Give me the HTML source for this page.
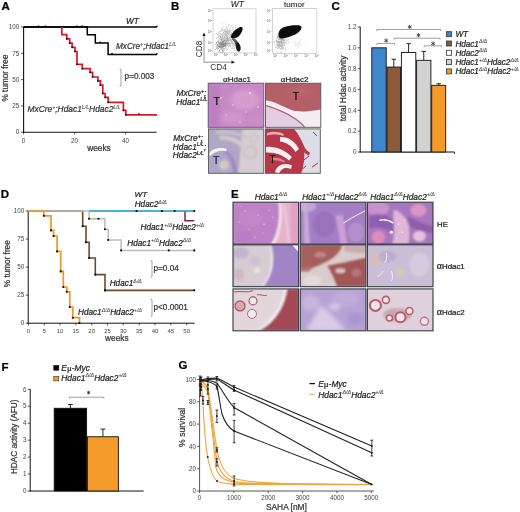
<!DOCTYPE html><html><head><meta charset="utf-8"><style>html,body{margin:0;padding:0;background:#fff;width:520px;height:512px;overflow:hidden}svg{display:block;filter:blur(0.35px)}text{font-family:"Liberation Sans",sans-serif;}</style></head><body>
<svg width="520" height="512" viewBox="0 0 520 512">
<defs>
<filter id="b1" x="-50%" y="-50%" width="200%" height="200%"><feGaussianBlur stdDeviation="1"/></filter>
<filter id="b2" x="-50%" y="-50%" width="200%" height="200%"><feGaussianBlur stdDeviation="2"/></filter>
<filter id="b3" x="-50%" y="-50%" width="200%" height="200%"><feGaussianBlur stdDeviation="3"/></filter>
<filter id="b05" x="-50%" y="-50%" width="200%" height="200%"><feGaussianBlur stdDeviation="0.6"/></filter>
</defs>
<rect width="520" height="512" fill="#fff"/>
<text x="1.5" y="10" font-size="11.5" text-anchor="start" fill="#000" font-weight="bold"  stroke="#000" stroke-width="0.22">A</text>
<line x1="21" y1="132.2" x2="23.6" y2="132.2" stroke="#333" stroke-width="0.8" />
<text x="19.3" y="134.39999999999998" font-size="6.3" text-anchor="end" fill="#444" font-weight="normal" >0</text>
<line x1="21" y1="105.89999999999999" x2="23.6" y2="105.89999999999999" stroke="#333" stroke-width="0.8" />
<text x="19.3" y="108.1" font-size="6.3" text-anchor="end" fill="#444" font-weight="normal" >25</text>
<line x1="21" y1="79.6" x2="23.6" y2="79.6" stroke="#333" stroke-width="0.8" />
<text x="19.3" y="81.8" font-size="6.3" text-anchor="end" fill="#444" font-weight="normal" >50</text>
<line x1="21" y1="53.3" x2="23.6" y2="53.3" stroke="#333" stroke-width="0.8" />
<text x="19.3" y="55.5" font-size="6.3" text-anchor="end" fill="#444" font-weight="normal" >75</text>
<line x1="21" y1="27.0" x2="23.6" y2="27.0" stroke="#333" stroke-width="0.8" />
<text x="19.3" y="29.2" font-size="6.3" text-anchor="end" fill="#444" font-weight="normal" >100</text>
<line x1="23.6" y1="132.2" x2="23.6" y2="134.39999999999998" stroke="#333" stroke-width="0.8" />
<text x="23.6" y="143.2" font-size="6.3" text-anchor="middle" fill="#444" font-weight="normal" >0</text>
<line x1="74.6" y1="132.2" x2="74.6" y2="134.39999999999998" stroke="#333" stroke-width="0.8" />
<text x="74.6" y="143.2" font-size="6.3" text-anchor="middle" fill="#444" font-weight="normal" >20</text>
<line x1="125.6" y1="132.2" x2="125.6" y2="134.39999999999998" stroke="#333" stroke-width="0.8" />
<text x="125.6" y="143.2" font-size="6.3" text-anchor="middle" fill="#444" font-weight="normal" >40</text>
<line x1="23.6" y1="26.7" x2="23.6" y2="132.7" stroke="#111" stroke-width="1.1" />
<line x1="23.1" y1="132.2" x2="156.6" y2="132.2" stroke="#111" stroke-width="1.1" />
<text x="99" y="150.5" font-size="8.3" text-anchor="middle" fill="#333" font-weight="normal"  stroke="#333" stroke-width="0.22">weeks</text>
<text transform="translate(8.3,78) rotate(-90)" font-size="8.2" text-anchor="middle" fill="#333" stroke="#333" stroke-width="0.22">% tumor free</text>
<path d="M23.6,27 H157" stroke="#000" stroke-width="1.6" fill="none" />
<path d="M23.6,27 H87.3 V34.8 H95.3 V43.1 H108.1 V54.4 H157" stroke="#000" stroke-width="1.5" fill="none" />
<path d="M61.9,27 V34.7 H66.8 V38.9 H69.7 V43.1 H72.1 V47.3 H75 V51.5 H77 V64.3 H82.3 V68.7 H90.1 V72.4 H92.6 V77 H97.9 V80.9 H100.4 V85.2 H102.8 V93.5 H105.2 V97.4 H108.2 V102.3 H123.4 V110.3 H125.8 V114.8 H157" stroke="#d8182a" stroke-width="1.7" fill="none" />
<rect x="66.1" y="38.199999999999996" width="1.4" height="1.4" fill="#000" stroke="none" stroke-width="1" />
<rect x="69.0" y="42.4" width="1.4" height="1.4" fill="#000" stroke="none" stroke-width="1" />
<rect x="71.39999999999999" y="46.599999999999994" width="1.4" height="1.4" fill="#000" stroke="none" stroke-width="1" />
<rect x="74.3" y="50.8" width="1.4" height="1.4" fill="#000" stroke="none" stroke-width="1" />
<rect x="76.3" y="63.599999999999994" width="1.4" height="1.4" fill="#000" stroke="none" stroke-width="1" />
<rect x="81.6" y="68.0" width="1.4" height="1.4" fill="#000" stroke="none" stroke-width="1" />
<rect x="89.39999999999999" y="71.7" width="1.4" height="1.4" fill="#000" stroke="none" stroke-width="1" />
<rect x="91.89999999999999" y="76.3" width="1.4" height="1.4" fill="#000" stroke="none" stroke-width="1" />
<rect x="97.2" y="80.2" width="1.4" height="1.4" fill="#000" stroke="none" stroke-width="1" />
<rect x="99.7" y="84.5" width="1.4" height="1.4" fill="#000" stroke="none" stroke-width="1" />
<rect x="102.1" y="92.8" width="1.4" height="1.4" fill="#000" stroke="none" stroke-width="1" />
<rect x="104.5" y="96.7" width="1.4" height="1.4" fill="#000" stroke="none" stroke-width="1" />
<rect x="107.5" y="101.6" width="1.4" height="1.4" fill="#000" stroke="none" stroke-width="1" />
<rect x="122.7" y="109.6" width="1.4" height="1.4" fill="#000" stroke="none" stroke-width="1" />
<rect x="125.1" y="114.1" width="1.4" height="1.4" fill="#000" stroke="none" stroke-width="1" />
<rect x="37.8" y="25.5" width="1.4" height="1.2" fill="#000" stroke="none" stroke-width="1" />
<rect x="44.699999999999996" y="25.5" width="1.4" height="1.2" fill="#000" stroke="none" stroke-width="1" />
<rect x="76.2" y="25.5" width="1.4" height="1.2" fill="#000" stroke="none" stroke-width="1" />
<rect x="81.6" y="25.5" width="1.4" height="1.2" fill="#000" stroke="none" stroke-width="1" />
<rect x="99.6" y="41.599999999999994" width="1.4" height="1.2" fill="#000" stroke="none" stroke-width="1" />
<rect x="111.3" y="52.9" width="1.4" height="1.2" fill="#000" stroke="none" stroke-width="1" />
<rect x="138.3" y="113.2" width="1.4" height="1.2" fill="#000" stroke="none" stroke-width="1" />
<rect x="156.3" y="25.7" width="1.4" height="1.2" fill="#000" stroke="none" stroke-width="1" />
<rect x="156.3" y="53.099999999999994" width="1.4" height="1.2" fill="#000" stroke="none" stroke-width="1" />
<text x="126.0" y="23.6" font-size="8.3" text-anchor="start" fill="#222" font-weight="normal" font-style="italic"  stroke="#222" stroke-width="0.22">WT</text>
<text x="116" y="49.3" font-size="8.2" font-style="italic" fill="#333" stroke="#333" stroke-width="0.22"><tspan>MxCre</tspan><tspan font-size="5.25" dy="-3.44" stroke-width="0.08" fill="#444" stroke="#444">+</tspan><tspan dy="3.44">;Hdac1</tspan><tspan font-size="5.25" dy="-3.44" stroke-width="0.08" fill="#444" stroke="#444">L/L</tspan></text>
<text x="27.5" y="112.3" font-size="8.4" font-style="italic" fill="#333" stroke="#333" stroke-width="0.22"><tspan>MxCre</tspan><tspan font-size="5.25" dy="-3.44" stroke-width="0.08" fill="#444" stroke="#444">+</tspan><tspan dy="3.44">;Hdac1</tspan><tspan font-size="5.25" dy="-3.44" stroke-width="0.08" fill="#444" stroke="#444">L/L</tspan><tspan dy="3.44">Hdac2</tspan><tspan font-size="5.25" dy="-3.44" stroke-width="0.08" fill="#444" stroke="#444">L/L</tspan></text>
<path d="M119.6,69.3 H121 V86.1 H119.6" stroke="#999" stroke-width="0.9" fill="none" />
<text x="124.6" y="79" font-size="8.2" text-anchor="start" fill="#333" font-weight="normal"  stroke="#333" stroke-width="0.22">p=0.003</text>
<text x="171" y="10" font-size="11.5" text-anchor="start" fill="#000" font-weight="bold"  stroke="#000" stroke-width="0.22">B</text>
<rect x="213" y="8.8" width="43" height="44.099999999999994" fill="#fff" stroke="#c8c8c8" stroke-width="0.8" />
<text x="212.0" y="12.2" font-size="2.8" text-anchor="end" fill="#555">10<tspan font-size="2.2" dy="-1">1</tspan></text>
<text x="212.0" y="21.7" font-size="2.8" text-anchor="end" fill="#555">10<tspan font-size="2.2" dy="-1">1</tspan></text>
<text x="212.0" y="32.7" font-size="2.8" text-anchor="end" fill="#555">10<tspan font-size="2.2" dy="-1">1</tspan></text>
<text x="212.0" y="43.7" font-size="2.8" text-anchor="end" fill="#555">10<tspan font-size="2.2" dy="-1">1</tspan></text>
<text x="212.0" y="52.400000000000006" font-size="2.8" text-anchor="end" fill="#555">10<tspan font-size="2.2" dy="-1">1</tspan></text>
<text x="216.0" y="56.3" font-size="2.8" text-anchor="middle" fill="#555">10<tspan font-size="2.2" dy="-1">1</tspan></text>
<text x="226.0" y="56.3" font-size="2.8" text-anchor="middle" fill="#555">10<tspan font-size="2.2" dy="-1">1</tspan></text>
<text x="236.0" y="56.3" font-size="2.8" text-anchor="middle" fill="#555">10<tspan font-size="2.2" dy="-1">1</tspan></text>
<text x="246.0" y="56.3" font-size="2.8" text-anchor="middle" fill="#555">10<tspan font-size="2.2" dy="-1">1</tspan></text>
<text x="256.0" y="56.3" font-size="2.8" text-anchor="middle" fill="#555">10<tspan font-size="2.2" dy="-1">1</tspan></text>
<rect x="272.4" y="8.6" width="44.400000000000034" height="44.8" fill="#fff" stroke="#c8c8c8" stroke-width="0.8" />
<text x="271.4" y="12.2" font-size="2.8" text-anchor="end" fill="#555">10<tspan font-size="2.2" dy="-1">1</tspan></text>
<text x="271.4" y="21.7" font-size="2.8" text-anchor="end" fill="#555">10<tspan font-size="2.2" dy="-1">1</tspan></text>
<text x="271.4" y="32.7" font-size="2.8" text-anchor="end" fill="#555">10<tspan font-size="2.2" dy="-1">1</tspan></text>
<text x="271.4" y="43.7" font-size="2.8" text-anchor="end" fill="#555">10<tspan font-size="2.2" dy="-1">1</tspan></text>
<text x="271.4" y="52.400000000000006" font-size="2.8" text-anchor="end" fill="#555">10<tspan font-size="2.2" dy="-1">1</tspan></text>
<text x="275.4" y="56.8" font-size="2.8" text-anchor="middle" fill="#555">10<tspan font-size="2.2" dy="-1">1</tspan></text>
<text x="285.75" y="56.8" font-size="2.8" text-anchor="middle" fill="#555">10<tspan font-size="2.2" dy="-1">1</tspan></text>
<text x="296.1" y="56.8" font-size="2.8" text-anchor="middle" fill="#555">10<tspan font-size="2.2" dy="-1">1</tspan></text>
<text x="306.45" y="56.8" font-size="2.8" text-anchor="middle" fill="#555">10<tspan font-size="2.2" dy="-1">1</tspan></text>
<text x="316.8" y="56.8" font-size="2.8" text-anchor="middle" fill="#555">10<tspan font-size="2.2" dy="-1">1</tspan></text>
<text x="237.3" y="7.0" font-size="8.5" text-anchor="middle" fill="#222" font-style="italic" stroke="#222" stroke-width="0.1">WT</text>
<text x="294.3" y="7.1" font-size="8.1" text-anchor="middle" fill="#222" stroke="#222" stroke-width="0.1">tumor</text>
<g filter="url(#b05)">
<g fill="#666" opacity="0.4"><circle cx="223.29" cy="41.42" r="0.6"/><circle cx="224.73" cy="37.10" r="0.6"/><circle cx="222.15" cy="36.89" r="0.6"/><circle cx="228.13" cy="42.41" r="0.6"/><circle cx="228.16" cy="41.41" r="0.6"/><circle cx="226.06" cy="40.39" r="0.6"/><circle cx="217.88" cy="41.72" r="0.6"/><circle cx="225.93" cy="42.16" r="0.6"/><circle cx="222.02" cy="28.04" r="0.6"/><circle cx="222.70" cy="35.59" r="0.6"/><circle cx="226.13" cy="39.08" r="0.6"/><circle cx="227.84" cy="36.18" r="0.6"/><circle cx="225.42" cy="41.40" r="0.6"/><circle cx="219.93" cy="47.32" r="0.6"/><circle cx="224.97" cy="45.88" r="0.6"/><circle cx="224.07" cy="34.45" r="0.6"/><circle cx="223.99" cy="38.07" r="0.6"/><circle cx="226.77" cy="40.98" r="0.6"/><circle cx="225.02" cy="33.50" r="0.6"/><circle cx="221.23" cy="44.86" r="0.6"/><circle cx="221.82" cy="39.43" r="0.6"/><circle cx="228.89" cy="31.63" r="0.6"/><circle cx="223.04" cy="45.92" r="0.6"/><circle cx="218.59" cy="35.17" r="0.6"/><circle cx="225.96" cy="34.59" r="0.6"/><circle cx="226.81" cy="39.20" r="0.6"/><circle cx="218.62" cy="41.79" r="0.6"/><circle cx="225.76" cy="44.68" r="0.6"/><circle cx="229.37" cy="42.44" r="0.6"/><circle cx="227.52" cy="32.30" r="0.6"/><circle cx="228.11" cy="36.44" r="0.6"/><circle cx="225.50" cy="31.87" r="0.6"/><circle cx="222.54" cy="35.18" r="0.6"/><circle cx="232.73" cy="29.70" r="0.6"/><circle cx="219.60" cy="38.71" r="0.6"/><circle cx="229.02" cy="43.58" r="0.6"/><circle cx="222.56" cy="23.75" r="0.6"/><circle cx="227.43" cy="35.51" r="0.6"/><circle cx="219.56" cy="42.94" r="0.6"/><circle cx="228.53" cy="41.00" r="0.6"/><circle cx="225.14" cy="41.54" r="0.6"/><circle cx="229.48" cy="43.95" r="0.6"/><circle cx="225.89" cy="42.43" r="0.6"/><circle cx="217.52" cy="44.07" r="0.6"/><circle cx="227.42" cy="42.80" r="0.6"/><circle cx="219.24" cy="33.57" r="0.6"/><circle cx="230.84" cy="30.38" r="0.6"/><circle cx="222.71" cy="44.16" r="0.6"/><circle cx="217.87" cy="46.07" r="0.6"/><circle cx="227.14" cy="38.80" r="0.6"/><circle cx="225.06" cy="42.76" r="0.6"/><circle cx="223.55" cy="45.15" r="0.6"/><circle cx="223.40" cy="36.12" r="0.6"/><circle cx="228.54" cy="40.25" r="0.6"/><circle cx="220.43" cy="43.04" r="0.6"/><circle cx="230.76" cy="38.22" r="0.6"/><circle cx="220.47" cy="36.82" r="0.6"/><circle cx="224.97" cy="37.28" r="0.6"/><circle cx="231.50" cy="35.10" r="0.6"/><circle cx="231.40" cy="33.68" r="0.6"/><circle cx="221.27" cy="41.48" r="0.6"/><circle cx="227.49" cy="44.71" r="0.6"/><circle cx="225.96" cy="40.12" r="0.6"/><circle cx="224.59" cy="42.18" r="0.6"/><circle cx="223.94" cy="40.27" r="0.6"/><circle cx="226.97" cy="39.61" r="0.6"/><circle cx="226.71" cy="42.79" r="0.6"/><circle cx="231.39" cy="42.85" r="0.6"/><circle cx="224.13" cy="36.59" r="0.6"/><circle cx="223.45" cy="43.84" r="0.6"/><circle cx="223.22" cy="40.67" r="0.6"/><circle cx="235.49" cy="27.48" r="0.6"/><circle cx="220.74" cy="39.09" r="0.6"/><circle cx="225.98" cy="40.68" r="0.6"/><circle cx="222.45" cy="41.98" r="0.6"/><circle cx="226.82" cy="36.56" r="0.6"/><circle cx="232.78" cy="43.45" r="0.6"/><circle cx="223.26" cy="37.89" r="0.6"/><circle cx="224.33" cy="38.43" r="0.6"/><circle cx="216.41" cy="33.54" r="0.6"/><circle cx="230.37" cy="33.93" r="0.6"/><circle cx="223.22" cy="43.94" r="0.6"/><circle cx="225.52" cy="47.75" r="0.6"/><circle cx="219.72" cy="35.33" r="0.6"/><circle cx="222.81" cy="41.91" r="0.6"/><circle cx="233.12" cy="26.06" r="0.6"/><circle cx="231.10" cy="32.55" r="0.6"/><circle cx="229.77" cy="31.89" r="0.6"/><circle cx="223.66" cy="45.46" r="0.6"/><circle cx="224.18" cy="39.85" r="0.6"/><circle cx="227.51" cy="40.59" r="0.6"/><circle cx="222.20" cy="46.96" r="0.6"/><circle cx="229.08" cy="38.57" r="0.6"/><circle cx="236.31" cy="35.89" r="0.6"/><circle cx="228.58" cy="38.58" r="0.6"/><circle cx="224.31" cy="42.85" r="0.6"/><circle cx="224.73" cy="42.59" r="0.6"/><circle cx="222.20" cy="29.44" r="0.6"/><circle cx="228.68" cy="34.59" r="0.6"/><circle cx="223.86" cy="30.18" r="0.6"/><circle cx="228.14" cy="44.27" r="0.6"/><circle cx="231.59" cy="35.64" r="0.6"/><circle cx="226.86" cy="33.01" r="0.6"/><circle cx="225.05" cy="48.17" r="0.6"/><circle cx="219.40" cy="46.25" r="0.6"/><circle cx="228.69" cy="39.12" r="0.6"/><circle cx="215.93" cy="44.29" r="0.6"/><circle cx="225.65" cy="35.73" r="0.6"/><circle cx="225.71" cy="41.58" r="0.6"/><circle cx="231.81" cy="35.23" r="0.6"/><circle cx="226.49" cy="48.02" r="0.6"/><circle cx="230.29" cy="39.60" r="0.6"/><circle cx="220.79" cy="43.56" r="0.6"/><circle cx="225.19" cy="39.78" r="0.6"/><circle cx="230.33" cy="39.13" r="0.6"/><circle cx="217.73" cy="34.52" r="0.6"/><circle cx="217.29" cy="41.33" r="0.6"/><circle cx="227.08" cy="36.13" r="0.6"/><circle cx="223.61" cy="43.36" r="0.6"/><circle cx="223.12" cy="46.05" r="0.6"/><circle cx="223.10" cy="44.40" r="0.6"/><circle cx="227.51" cy="49.05" r="0.6"/><circle cx="221.26" cy="42.91" r="0.6"/><circle cx="220.31" cy="31.31" r="0.6"/><circle cx="216.51" cy="42.53" r="0.6"/><circle cx="220.78" cy="37.62" r="0.6"/><circle cx="224.39" cy="38.65" r="0.6"/><circle cx="222.59" cy="39.60" r="0.6"/><circle cx="231.09" cy="41.14" r="0.6"/><circle cx="225.20" cy="44.82" r="0.6"/><circle cx="226.37" cy="32.17" r="0.6"/><circle cx="221.34" cy="44.05" r="0.6"/><circle cx="220.31" cy="34.11" r="0.6"/><circle cx="227.18" cy="44.24" r="0.6"/><circle cx="223.72" cy="43.24" r="0.6"/><circle cx="227.49" cy="32.98" r="0.6"/><circle cx="220.66" cy="33.98" r="0.6"/><circle cx="229.09" cy="37.01" r="0.6"/><circle cx="223.15" cy="33.99" r="0.6"/><circle cx="219.92" cy="36.75" r="0.6"/><circle cx="220.35" cy="39.66" r="0.6"/><circle cx="216.35" cy="38.21" r="0.6"/><circle cx="225.95" cy="28.11" r="0.6"/><circle cx="227.94" cy="38.32" r="0.6"/><circle cx="218.75" cy="32.03" r="0.6"/><circle cx="226.75" cy="36.90" r="0.6"/><circle cx="226.47" cy="43.76" r="0.6"/><circle cx="226.76" cy="41.42" r="0.6"/><circle cx="228.51" cy="43.89" r="0.6"/><circle cx="229.94" cy="28.53" r="0.6"/><circle cx="225.96" cy="46.83" r="0.6"/><circle cx="224.74" cy="36.22" r="0.6"/><circle cx="234.53" cy="31.83" r="0.6"/><circle cx="222.67" cy="52.23" r="0.6"/><circle cx="220.69" cy="41.64" r="0.6"/><circle cx="231.68" cy="40.38" r="0.6"/><circle cx="225.46" cy="44.34" r="0.6"/><circle cx="222.03" cy="37.57" r="0.6"/><circle cx="224.67" cy="43.65" r="0.6"/><circle cx="225.20" cy="37.94" r="0.6"/><circle cx="222.09" cy="36.03" r="0.6"/><circle cx="227.90" cy="40.48" r="0.6"/><circle cx="223.43" cy="33.67" r="0.6"/><circle cx="232.32" cy="47.83" r="0.6"/><circle cx="231.41" cy="26.05" r="0.6"/><circle cx="226.36" cy="42.19" r="0.6"/><circle cx="230.10" cy="43.04" r="0.6"/><circle cx="223.92" cy="41.67" r="0.6"/><circle cx="216.63" cy="42.36" r="0.6"/><circle cx="227.26" cy="35.66" r="0.6"/><circle cx="226.62" cy="49.92" r="0.6"/><circle cx="221.26" cy="34.01" r="0.6"/><circle cx="225.70" cy="40.27" r="0.6"/><circle cx="225.21" cy="33.46" r="0.6"/><circle cx="230.61" cy="46.71" r="0.6"/><circle cx="223.08" cy="30.66" r="0.6"/><circle cx="229.25" cy="46.01" r="0.6"/><circle cx="229.95" cy="45.19" r="0.6"/><circle cx="221.58" cy="39.44" r="0.6"/><circle cx="218.79" cy="32.77" r="0.6"/><circle cx="223.95" cy="41.68" r="0.6"/><circle cx="222.70" cy="37.57" r="0.6"/><circle cx="225.96" cy="41.47" r="0.6"/><circle cx="226.85" cy="40.78" r="0.6"/><circle cx="222.60" cy="42.80" r="0.6"/><circle cx="226.51" cy="34.71" r="0.6"/><circle cx="222.85" cy="38.33" r="0.6"/><circle cx="224.37" cy="39.71" r="0.6"/><circle cx="224.71" cy="39.92" r="0.6"/><circle cx="226.58" cy="32.24" r="0.6"/><circle cx="224.74" cy="44.98" r="0.6"/><circle cx="226.80" cy="38.47" r="0.6"/><circle cx="228.11" cy="34.40" r="0.6"/><circle cx="218.38" cy="37.30" r="0.6"/><circle cx="220.60" cy="41.90" r="0.6"/><circle cx="225.54" cy="24.04" r="0.6"/><circle cx="218.86" cy="46.19" r="0.6"/><circle cx="225.91" cy="31.40" r="0.6"/><circle cx="221.53" cy="40.92" r="0.6"/><circle cx="226.42" cy="40.46" r="0.6"/><circle cx="228.96" cy="44.29" r="0.6"/><circle cx="223.96" cy="42.11" r="0.6"/><circle cx="229.11" cy="45.86" r="0.6"/><circle cx="230.28" cy="34.40" r="0.6"/><circle cx="223.30" cy="42.68" r="0.6"/><circle cx="222.24" cy="44.30" r="0.6"/><circle cx="225.57" cy="44.41" r="0.6"/><circle cx="220.13" cy="52.15" r="0.6"/><circle cx="229.61" cy="39.19" r="0.6"/><circle cx="221.09" cy="52.73" r="0.6"/><circle cx="222.40" cy="43.23" r="0.6"/><circle cx="228.36" cy="40.08" r="0.6"/><circle cx="220.68" cy="38.74" r="0.6"/><circle cx="224.40" cy="45.32" r="0.6"/><circle cx="227.65" cy="39.96" r="0.6"/><circle cx="227.06" cy="42.74" r="0.6"/><circle cx="225.62" cy="39.51" r="0.6"/><circle cx="223.05" cy="42.35" r="0.6"/><circle cx="222.40" cy="34.58" r="0.6"/><circle cx="227.40" cy="31.31" r="0.6"/><circle cx="226.77" cy="27.98" r="0.6"/><circle cx="221.73" cy="41.26" r="0.6"/><circle cx="227.04" cy="39.32" r="0.6"/><circle cx="226.50" cy="31.31" r="0.6"/><circle cx="230.45" cy="43.66" r="0.6"/><circle cx="230.19" cy="35.53" r="0.6"/><circle cx="227.32" cy="29.24" r="0.6"/><circle cx="226.16" cy="44.74" r="0.6"/><circle cx="218.56" cy="36.71" r="0.6"/><circle cx="230.03" cy="30.41" r="0.6"/><circle cx="220.45" cy="31.46" r="0.6"/><circle cx="225.12" cy="30.96" r="0.6"/><circle cx="224.70" cy="40.35" r="0.6"/><circle cx="226.04" cy="43.36" r="0.6"/><circle cx="228.28" cy="46.72" r="0.6"/><circle cx="221.31" cy="34.95" r="0.6"/><circle cx="223.10" cy="32.22" r="0.6"/><circle cx="224.71" cy="38.94" r="0.6"/><circle cx="229.27" cy="31.18" r="0.6"/><circle cx="220.78" cy="37.56" r="0.6"/><circle cx="224.82" cy="37.15" r="0.6"/><circle cx="226.02" cy="34.94" r="0.6"/><circle cx="226.84" cy="41.61" r="0.6"/><circle cx="225.79" cy="35.38" r="0.6"/><circle cx="228.82" cy="24.51" r="0.6"/><circle cx="221.56" cy="38.15" r="0.6"/><circle cx="219.50" cy="38.45" r="0.6"/><circle cx="227.75" cy="31.92" r="0.6"/><circle cx="224.65" cy="37.08" r="0.6"/><circle cx="225.59" cy="42.70" r="0.6"/><circle cx="226.26" cy="34.49" r="0.6"/><circle cx="224.61" cy="38.50" r="0.6"/><circle cx="227.05" cy="41.33" r="0.6"/><circle cx="224.72" cy="31.11" r="0.6"/><circle cx="224.92" cy="34.71" r="0.6"/><circle cx="221.36" cy="37.21" r="0.6"/><circle cx="223.14" cy="39.03" r="0.6"/><circle cx="227.47" cy="37.39" r="0.6"/><circle cx="233.52" cy="39.78" r="0.6"/><circle cx="228.59" cy="40.81" r="0.6"/><circle cx="232.70" cy="27.70" r="0.6"/><circle cx="222.01" cy="39.50" r="0.6"/><circle cx="223.27" cy="51.92" r="0.6"/><circle cx="224.03" cy="46.07" r="0.6"/><circle cx="226.10" cy="44.79" r="0.6"/><circle cx="227.01" cy="38.72" r="0.6"/><circle cx="228.50" cy="33.88" r="0.6"/><circle cx="230.72" cy="34.91" r="0.6"/><circle cx="222.41" cy="50.41" r="0.6"/><circle cx="224.20" cy="38.86" r="0.6"/><circle cx="228.96" cy="40.38" r="0.6"/><circle cx="221.80" cy="39.50" r="0.6"/><circle cx="225.85" cy="43.35" r="0.6"/><circle cx="219.49" cy="47.39" r="0.6"/><circle cx="230.70" cy="40.87" r="0.6"/><circle cx="226.62" cy="37.03" r="0.6"/><circle cx="231.01" cy="36.80" r="0.6"/><circle cx="228.10" cy="37.20" r="0.6"/><circle cx="221.45" cy="42.04" r="0.6"/><circle cx="229.60" cy="40.37" r="0.6"/><circle cx="221.35" cy="42.54" r="0.6"/><circle cx="224.32" cy="40.58" r="0.6"/><circle cx="228.40" cy="46.57" r="0.6"/><circle cx="219.50" cy="50.45" r="0.6"/><circle cx="223.73" cy="43.13" r="0.6"/><circle cx="222.85" cy="38.08" r="0.6"/><circle cx="216.08" cy="46.53" r="0.6"/><circle cx="231.67" cy="34.07" r="0.6"/><circle cx="222.46" cy="28.88" r="0.6"/><circle cx="229.79" cy="37.84" r="0.6"/><circle cx="225.30" cy="37.29" r="0.6"/><circle cx="226.35" cy="33.15" r="0.6"/><circle cx="227.42" cy="31.47" r="0.6"/><circle cx="224.25" cy="40.55" r="0.6"/><circle cx="226.98" cy="38.28" r="0.6"/><circle cx="221.63" cy="38.88" r="0.6"/><circle cx="220.79" cy="46.71" r="0.6"/><circle cx="227.83" cy="39.21" r="0.6"/><circle cx="224.52" cy="34.81" r="0.6"/><circle cx="222.35" cy="36.15" r="0.6"/></g>
<g fill="#444" opacity="0.45"><circle cx="222.27" cy="46.24" r="0.55"/><circle cx="222.98" cy="50.04" r="0.55"/><circle cx="219.67" cy="45.03" r="0.55"/><circle cx="228.77" cy="40.52" r="0.55"/><circle cx="220.14" cy="45.41" r="0.55"/><circle cx="221.90" cy="45.98" r="0.55"/><circle cx="220.88" cy="45.88" r="0.55"/><circle cx="221.64" cy="46.85" r="0.55"/><circle cx="216.58" cy="42.88" r="0.55"/><circle cx="221.49" cy="42.52" r="0.55"/><circle cx="218.78" cy="46.51" r="0.55"/><circle cx="219.81" cy="46.52" r="0.55"/><circle cx="223.44" cy="45.74" r="0.55"/><circle cx="222.82" cy="44.75" r="0.55"/><circle cx="217.84" cy="44.93" r="0.55"/><circle cx="222.68" cy="43.73" r="0.55"/><circle cx="221.24" cy="46.80" r="0.55"/><circle cx="219.22" cy="46.54" r="0.55"/><circle cx="226.34" cy="43.67" r="0.55"/><circle cx="221.88" cy="44.64" r="0.55"/><circle cx="225.50" cy="45.76" r="0.55"/><circle cx="223.83" cy="43.34" r="0.55"/><circle cx="221.46" cy="44.98" r="0.55"/><circle cx="216.88" cy="48.46" r="0.55"/><circle cx="223.84" cy="40.80" r="0.55"/><circle cx="223.44" cy="44.69" r="0.55"/><circle cx="222.67" cy="45.88" r="0.55"/><circle cx="217.60" cy="44.49" r="0.55"/><circle cx="225.38" cy="43.62" r="0.55"/><circle cx="218.84" cy="41.74" r="0.55"/><circle cx="218.33" cy="45.81" r="0.55"/><circle cx="225.90" cy="46.03" r="0.55"/><circle cx="222.14" cy="50.36" r="0.55"/><circle cx="220.15" cy="43.38" r="0.55"/><circle cx="222.87" cy="46.32" r="0.55"/><circle cx="218.86" cy="42.19" r="0.55"/><circle cx="222.26" cy="45.59" r="0.55"/><circle cx="218.10" cy="44.51" r="0.55"/><circle cx="220.09" cy="46.10" r="0.55"/><circle cx="221.20" cy="44.79" r="0.55"/><circle cx="220.58" cy="47.53" r="0.55"/><circle cx="225.12" cy="44.12" r="0.55"/><circle cx="223.70" cy="43.18" r="0.55"/><circle cx="221.69" cy="46.80" r="0.55"/><circle cx="225.44" cy="44.08" r="0.55"/><circle cx="221.31" cy="45.47" r="0.55"/><circle cx="217.60" cy="45.04" r="0.55"/><circle cx="219.74" cy="45.89" r="0.55"/><circle cx="218.56" cy="40.26" r="0.55"/><circle cx="221.60" cy="45.63" r="0.55"/><circle cx="220.07" cy="47.13" r="0.55"/><circle cx="220.79" cy="43.55" r="0.55"/><circle cx="222.74" cy="41.24" r="0.55"/><circle cx="219.74" cy="44.95" r="0.55"/><circle cx="223.71" cy="44.61" r="0.55"/><circle cx="222.30" cy="43.43" r="0.55"/><circle cx="222.28" cy="48.99" r="0.55"/><circle cx="219.72" cy="50.68" r="0.55"/><circle cx="219.83" cy="45.04" r="0.55"/><circle cx="221.95" cy="47.46" r="0.55"/><circle cx="218.28" cy="39.96" r="0.55"/><circle cx="223.08" cy="46.91" r="0.55"/><circle cx="223.12" cy="51.31" r="0.55"/><circle cx="222.03" cy="45.61" r="0.55"/><circle cx="223.92" cy="45.89" r="0.55"/><circle cx="225.83" cy="42.03" r="0.55"/><circle cx="220.52" cy="36.73" r="0.55"/><circle cx="223.61" cy="44.11" r="0.55"/><circle cx="223.90" cy="50.17" r="0.55"/><circle cx="221.48" cy="44.39" r="0.55"/><circle cx="220.20" cy="42.99" r="0.55"/><circle cx="219.86" cy="46.53" r="0.55"/><circle cx="221.60" cy="45.16" r="0.55"/><circle cx="221.05" cy="47.19" r="0.55"/><circle cx="222.78" cy="44.66" r="0.55"/><circle cx="223.23" cy="44.64" r="0.55"/><circle cx="218.50" cy="48.49" r="0.55"/><circle cx="222.71" cy="42.70" r="0.55"/><circle cx="224.30" cy="45.83" r="0.55"/><circle cx="217.43" cy="48.86" r="0.55"/><circle cx="222.37" cy="47.14" r="0.55"/><circle cx="222.01" cy="44.64" r="0.55"/><circle cx="217.47" cy="47.33" r="0.55"/><circle cx="221.58" cy="44.31" r="0.55"/><circle cx="222.41" cy="45.19" r="0.55"/><circle cx="223.26" cy="44.11" r="0.55"/><circle cx="221.41" cy="39.87" r="0.55"/><circle cx="220.40" cy="46.62" r="0.55"/><circle cx="224.98" cy="44.13" r="0.55"/><circle cx="221.18" cy="48.80" r="0.55"/><circle cx="220.65" cy="46.76" r="0.55"/><circle cx="225.86" cy="45.10" r="0.55"/><circle cx="224.69" cy="43.29" r="0.55"/><circle cx="222.04" cy="44.81" r="0.55"/><circle cx="221.80" cy="47.71" r="0.55"/><circle cx="227.71" cy="43.40" r="0.55"/><circle cx="220.00" cy="46.19" r="0.55"/><circle cx="218.76" cy="46.19" r="0.55"/><circle cx="222.99" cy="44.33" r="0.55"/><circle cx="222.88" cy="41.28" r="0.55"/><circle cx="223.48" cy="41.29" r="0.55"/><circle cx="219.69" cy="43.67" r="0.55"/><circle cx="220.46" cy="47.06" r="0.55"/><circle cx="221.71" cy="44.05" r="0.55"/><circle cx="222.91" cy="48.80" r="0.55"/><circle cx="221.52" cy="45.88" r="0.55"/><circle cx="224.72" cy="45.64" r="0.55"/><circle cx="218.16" cy="50.98" r="0.55"/><circle cx="227.24" cy="40.24" r="0.55"/><circle cx="221.40" cy="46.00" r="0.55"/><circle cx="224.01" cy="46.61" r="0.55"/><circle cx="220.79" cy="42.47" r="0.55"/><circle cx="221.77" cy="47.48" r="0.55"/><circle cx="218.67" cy="42.53" r="0.55"/><circle cx="221.44" cy="40.35" r="0.55"/><circle cx="220.82" cy="43.95" r="0.55"/><circle cx="222.67" cy="43.32" r="0.55"/><circle cx="219.21" cy="44.05" r="0.55"/><circle cx="221.37" cy="43.40" r="0.55"/><circle cx="221.53" cy="46.80" r="0.55"/><circle cx="224.58" cy="49.09" r="0.55"/><circle cx="219.46" cy="43.99" r="0.55"/><circle cx="215.04" cy="49.56" r="0.55"/><circle cx="219.62" cy="44.92" r="0.55"/><circle cx="222.86" cy="41.74" r="0.55"/><circle cx="222.71" cy="44.94" r="0.55"/><circle cx="216.75" cy="45.70" r="0.55"/><circle cx="224.61" cy="40.52" r="0.55"/><circle cx="223.60" cy="45.50" r="0.55"/><circle cx="222.73" cy="46.06" r="0.55"/><circle cx="224.89" cy="44.46" r="0.55"/><circle cx="223.77" cy="44.02" r="0.55"/><circle cx="223.39" cy="43.05" r="0.55"/><circle cx="221.22" cy="49.15" r="0.55"/><circle cx="222.66" cy="44.62" r="0.55"/><circle cx="218.52" cy="43.10" r="0.55"/><circle cx="222.00" cy="47.25" r="0.55"/><circle cx="222.61" cy="46.26" r="0.55"/><circle cx="221.39" cy="48.24" r="0.55"/><circle cx="220.48" cy="43.68" r="0.55"/><circle cx="223.81" cy="45.15" r="0.55"/><circle cx="220.78" cy="43.62" r="0.55"/><circle cx="220.83" cy="46.50" r="0.55"/><circle cx="222.42" cy="42.10" r="0.55"/><circle cx="222.61" cy="45.43" r="0.55"/><circle cx="218.90" cy="46.85" r="0.55"/><circle cx="220.77" cy="44.19" r="0.55"/><circle cx="223.57" cy="48.17" r="0.55"/><circle cx="219.71" cy="46.05" r="0.55"/><circle cx="219.22" cy="50.55" r="0.55"/><circle cx="220.22" cy="47.87" r="0.55"/><circle cx="219.82" cy="46.95" r="0.55"/><circle cx="227.27" cy="38.90" r="0.55"/><circle cx="220.37" cy="46.20" r="0.55"/><circle cx="221.26" cy="43.40" r="0.55"/><circle cx="227.10" cy="45.19" r="0.55"/><circle cx="217.22" cy="47.05" r="0.55"/><circle cx="217.02" cy="47.76" r="0.55"/><circle cx="220.00" cy="45.35" r="0.55"/><circle cx="224.78" cy="45.28" r="0.55"/></g>
<g fill="#999" opacity="0.35"><circle cx="223.52" cy="26.76" r="0.5"/><circle cx="229.96" cy="32.85" r="0.5"/><circle cx="224.96" cy="33.15" r="0.5"/><circle cx="228.24" cy="32.62" r="0.5"/><circle cx="221.35" cy="30.24" r="0.5"/><circle cx="229.25" cy="32.83" r="0.5"/><circle cx="229.20" cy="24.86" r="0.5"/><circle cx="227.42" cy="32.23" r="0.5"/><circle cx="233.38" cy="28.62" r="0.5"/><circle cx="226.18" cy="31.09" r="0.5"/><circle cx="229.22" cy="29.89" r="0.5"/><circle cx="229.87" cy="29.03" r="0.5"/><circle cx="227.67" cy="29.68" r="0.5"/><circle cx="227.40" cy="29.27" r="0.5"/><circle cx="223.01" cy="33.73" r="0.5"/><circle cx="227.76" cy="29.60" r="0.5"/><circle cx="227.50" cy="33.48" r="0.5"/><circle cx="224.56" cy="30.72" r="0.5"/><circle cx="228.35" cy="32.32" r="0.5"/><circle cx="226.16" cy="25.73" r="0.5"/><circle cx="230.11" cy="31.82" r="0.5"/><circle cx="227.03" cy="30.30" r="0.5"/><circle cx="227.66" cy="29.94" r="0.5"/><circle cx="224.44" cy="29.15" r="0.5"/><circle cx="225.51" cy="29.47" r="0.5"/><circle cx="224.10" cy="32.59" r="0.5"/><circle cx="223.73" cy="32.65" r="0.5"/><circle cx="224.46" cy="31.88" r="0.5"/><circle cx="230.44" cy="31.51" r="0.5"/><circle cx="225.17" cy="31.12" r="0.5"/><circle cx="227.37" cy="26.67" r="0.5"/><circle cx="225.48" cy="31.41" r="0.5"/><circle cx="225.83" cy="31.20" r="0.5"/><circle cx="228.83" cy="32.92" r="0.5"/><circle cx="229.26" cy="32.47" r="0.5"/><circle cx="226.28" cy="30.95" r="0.5"/><circle cx="226.32" cy="30.22" r="0.5"/><circle cx="226.55" cy="26.69" r="0.5"/><circle cx="226.17" cy="30.94" r="0.5"/><circle cx="224.57" cy="30.94" r="0.5"/><circle cx="228.29" cy="30.59" r="0.5"/><circle cx="232.19" cy="24.48" r="0.5"/><circle cx="226.48" cy="26.44" r="0.5"/><circle cx="229.45" cy="37.64" r="0.5"/><circle cx="220.74" cy="31.32" r="0.5"/><circle cx="228.30" cy="30.24" r="0.5"/><circle cx="228.38" cy="25.39" r="0.5"/><circle cx="229.13" cy="31.93" r="0.5"/><circle cx="227.06" cy="29.53" r="0.5"/><circle cx="228.60" cy="29.79" r="0.5"/><circle cx="227.56" cy="29.72" r="0.5"/><circle cx="221.38" cy="30.92" r="0.5"/><circle cx="227.51" cy="32.89" r="0.5"/><circle cx="224.81" cy="30.92" r="0.5"/><circle cx="228.54" cy="31.36" r="0.5"/><circle cx="230.11" cy="35.98" r="0.5"/><circle cx="224.73" cy="26.20" r="0.5"/><circle cx="229.14" cy="34.82" r="0.5"/><circle cx="229.31" cy="33.03" r="0.5"/><circle cx="225.45" cy="29.22" r="0.5"/></g>
<g fill="#666" opacity="0.35"><circle cx="235.78" cy="41.27" r="0.5"/><circle cx="230.37" cy="41.01" r="0.5"/><circle cx="238.98" cy="49.77" r="0.5"/><circle cx="232.63" cy="41.81" r="0.5"/><circle cx="234.46" cy="41.75" r="0.5"/><circle cx="236.62" cy="43.77" r="0.5"/><circle cx="231.83" cy="47.93" r="0.5"/><circle cx="232.83" cy="44.66" r="0.5"/><circle cx="233.97" cy="43.06" r="0.5"/><circle cx="234.65" cy="41.92" r="0.5"/><circle cx="230.31" cy="37.38" r="0.5"/><circle cx="231.47" cy="41.72" r="0.5"/><circle cx="233.95" cy="44.17" r="0.5"/><circle cx="235.11" cy="44.36" r="0.5"/><circle cx="232.41" cy="41.87" r="0.5"/><circle cx="229.76" cy="43.49" r="0.5"/><circle cx="234.97" cy="45.59" r="0.5"/><circle cx="233.76" cy="43.48" r="0.5"/><circle cx="235.87" cy="44.05" r="0.5"/><circle cx="235.48" cy="45.75" r="0.5"/><circle cx="234.43" cy="47.92" r="0.5"/><circle cx="232.85" cy="42.92" r="0.5"/><circle cx="232.38" cy="41.61" r="0.5"/><circle cx="237.11" cy="49.28" r="0.5"/><circle cx="234.05" cy="45.70" r="0.5"/><circle cx="236.35" cy="46.42" r="0.5"/><circle cx="236.41" cy="40.21" r="0.5"/><circle cx="232.72" cy="45.36" r="0.5"/><circle cx="236.87" cy="44.31" r="0.5"/><circle cx="232.28" cy="42.94" r="0.5"/><circle cx="232.68" cy="41.43" r="0.5"/><circle cx="237.00" cy="42.12" r="0.5"/><circle cx="234.04" cy="50.49" r="0.5"/><circle cx="236.37" cy="45.01" r="0.5"/><circle cx="232.78" cy="45.23" r="0.5"/><circle cx="237.24" cy="45.87" r="0.5"/><circle cx="236.52" cy="44.29" r="0.5"/><circle cx="235.03" cy="43.40" r="0.5"/><circle cx="234.85" cy="47.90" r="0.5"/><circle cx="231.14" cy="43.81" r="0.5"/><circle cx="234.48" cy="42.29" r="0.5"/><circle cx="233.38" cy="46.36" r="0.5"/><circle cx="238.00" cy="45.89" r="0.5"/><circle cx="234.65" cy="39.35" r="0.5"/><circle cx="237.86" cy="44.23" r="0.5"/><circle cx="233.93" cy="40.64" r="0.5"/><circle cx="233.89" cy="40.71" r="0.5"/><circle cx="234.14" cy="45.40" r="0.5"/><circle cx="234.06" cy="44.84" r="0.5"/><circle cx="232.30" cy="48.29" r="0.5"/><circle cx="232.69" cy="38.55" r="0.5"/><circle cx="233.62" cy="41.71" r="0.5"/><circle cx="231.98" cy="42.94" r="0.5"/><circle cx="234.58" cy="40.45" r="0.5"/><circle cx="233.72" cy="48.28" r="0.5"/><circle cx="235.37" cy="43.54" r="0.5"/><circle cx="234.26" cy="43.64" r="0.5"/><circle cx="233.90" cy="46.20" r="0.5"/><circle cx="233.81" cy="36.79" r="0.5"/><circle cx="233.96" cy="41.33" r="0.5"/><circle cx="235.30" cy="42.17" r="0.5"/><circle cx="234.30" cy="50.53" r="0.5"/><circle cx="231.91" cy="40.63" r="0.5"/><circle cx="231.18" cy="36.82" r="0.5"/><circle cx="230.24" cy="45.09" r="0.5"/><circle cx="232.72" cy="38.40" r="0.5"/><circle cx="231.03" cy="45.85" r="0.5"/><circle cx="232.45" cy="42.90" r="0.5"/><circle cx="234.66" cy="48.07" r="0.5"/><circle cx="237.88" cy="47.10" r="0.5"/><circle cx="234.29" cy="44.55" r="0.5"/><circle cx="237.60" cy="48.29" r="0.5"/><circle cx="233.38" cy="45.37" r="0.5"/><circle cx="234.57" cy="44.16" r="0.5"/><circle cx="233.00" cy="40.02" r="0.5"/><circle cx="232.93" cy="39.37" r="0.5"/><circle cx="236.45" cy="45.61" r="0.5"/><circle cx="231.59" cy="48.19" r="0.5"/><circle cx="235.78" cy="38.27" r="0.5"/><circle cx="237.68" cy="46.43" r="0.5"/></g>
</g>
<g filter="url(#b05)">
<path d="M230.8,36.5 C232,33 235,29.5 239,27.6 C241.2,26.7 243,27 242.6,29 C242,32 240.5,34.5 238.5,36.5 C236.5,38.2 233,38.8 231.2,37.8 Z" fill="#0a0a0a"/>
<path d="M235.5,40.5 C238.5,42 241,45 240.6,49 C240.2,52.3 237.2,52.5 236.5,49.5 C235.8,46.5 235,43 235.5,40.5 Z" fill="#151515"/>
<path d="M232,38 C235,38.5 237.5,40 238,43 L235.5,44 C234.5,41.5 233.5,40.5 231.5,39.5 Z" fill="#444" opacity="0.8"/>
</g>
<g filter="url(#b05)">
<g fill="#555" opacity="0.4"><circle cx="285.45" cy="37.08" r="0.55"/><circle cx="281.77" cy="43.69" r="0.55"/><circle cx="280.98" cy="42.68" r="0.55"/><circle cx="283.03" cy="36.02" r="0.55"/><circle cx="277.52" cy="36.42" r="0.55"/><circle cx="279.16" cy="39.58" r="0.55"/><circle cx="281.38" cy="43.07" r="0.55"/><circle cx="280.58" cy="39.29" r="0.55"/><circle cx="279.44" cy="45.81" r="0.55"/><circle cx="282.33" cy="42.40" r="0.55"/><circle cx="279.73" cy="48.21" r="0.55"/><circle cx="279.07" cy="44.59" r="0.55"/><circle cx="283.27" cy="40.94" r="0.55"/><circle cx="282.48" cy="37.54" r="0.55"/><circle cx="282.93" cy="42.80" r="0.55"/><circle cx="276.69" cy="44.68" r="0.55"/><circle cx="278.36" cy="47.13" r="0.55"/><circle cx="278.87" cy="41.34" r="0.55"/><circle cx="281.18" cy="40.67" r="0.55"/><circle cx="281.12" cy="39.79" r="0.55"/><circle cx="282.11" cy="42.02" r="0.55"/><circle cx="281.01" cy="30.99" r="0.55"/><circle cx="283.29" cy="42.13" r="0.55"/><circle cx="276.22" cy="42.38" r="0.55"/><circle cx="281.62" cy="46.28" r="0.55"/><circle cx="277.90" cy="48.19" r="0.55"/><circle cx="280.12" cy="51.58" r="0.55"/><circle cx="280.15" cy="44.72" r="0.55"/><circle cx="279.62" cy="37.54" r="0.55"/><circle cx="283.13" cy="45.63" r="0.55"/><circle cx="284.19" cy="45.43" r="0.55"/><circle cx="279.12" cy="35.35" r="0.55"/><circle cx="278.94" cy="39.30" r="0.55"/><circle cx="278.54" cy="44.33" r="0.55"/><circle cx="281.29" cy="40.92" r="0.55"/><circle cx="280.91" cy="41.42" r="0.55"/><circle cx="281.01" cy="45.01" r="0.55"/><circle cx="282.80" cy="39.26" r="0.55"/><circle cx="276.88" cy="47.71" r="0.55"/><circle cx="280.77" cy="46.42" r="0.55"/><circle cx="276.56" cy="40.68" r="0.55"/><circle cx="280.56" cy="36.23" r="0.55"/><circle cx="279.26" cy="44.90" r="0.55"/><circle cx="283.09" cy="48.38" r="0.55"/><circle cx="278.43" cy="36.39" r="0.55"/><circle cx="281.75" cy="45.76" r="0.55"/><circle cx="280.96" cy="36.79" r="0.55"/><circle cx="282.38" cy="45.17" r="0.55"/><circle cx="281.83" cy="40.05" r="0.55"/><circle cx="281.23" cy="45.16" r="0.55"/><circle cx="279.16" cy="34.63" r="0.55"/><circle cx="281.29" cy="43.92" r="0.55"/><circle cx="280.53" cy="45.56" r="0.55"/><circle cx="279.09" cy="41.67" r="0.55"/><circle cx="279.77" cy="44.29" r="0.55"/><circle cx="284.33" cy="41.00" r="0.55"/><circle cx="285.43" cy="48.12" r="0.55"/><circle cx="282.40" cy="44.35" r="0.55"/><circle cx="284.75" cy="41.28" r="0.55"/><circle cx="280.23" cy="37.75" r="0.55"/><circle cx="281.63" cy="47.38" r="0.55"/><circle cx="281.78" cy="43.69" r="0.55"/><circle cx="280.02" cy="42.68" r="0.55"/><circle cx="277.08" cy="46.20" r="0.55"/><circle cx="279.52" cy="37.58" r="0.55"/><circle cx="278.70" cy="38.70" r="0.55"/><circle cx="282.55" cy="46.23" r="0.55"/><circle cx="277.24" cy="45.71" r="0.55"/><circle cx="282.63" cy="39.68" r="0.55"/><circle cx="276.93" cy="39.02" r="0.55"/><circle cx="278.98" cy="43.37" r="0.55"/><circle cx="279.64" cy="33.89" r="0.55"/><circle cx="281.06" cy="35.86" r="0.55"/><circle cx="282.67" cy="37.17" r="0.55"/><circle cx="278.84" cy="38.58" r="0.55"/><circle cx="279.20" cy="47.19" r="0.55"/><circle cx="282.54" cy="44.41" r="0.55"/><circle cx="281.27" cy="35.81" r="0.55"/><circle cx="279.25" cy="39.79" r="0.55"/><circle cx="278.15" cy="44.04" r="0.55"/><circle cx="278.72" cy="39.16" r="0.55"/><circle cx="277.99" cy="33.77" r="0.55"/><circle cx="281.93" cy="47.32" r="0.55"/><circle cx="280.92" cy="38.09" r="0.55"/><circle cx="274.01" cy="42.69" r="0.55"/><circle cx="283.42" cy="43.19" r="0.55"/><circle cx="282.73" cy="47.91" r="0.55"/><circle cx="283.20" cy="40.23" r="0.55"/><circle cx="283.03" cy="45.10" r="0.55"/><circle cx="276.81" cy="40.38" r="0.55"/><circle cx="277.08" cy="41.56" r="0.55"/><circle cx="281.89" cy="37.73" r="0.55"/><circle cx="275.57" cy="47.19" r="0.55"/><circle cx="281.40" cy="47.88" r="0.55"/><circle cx="277.32" cy="46.24" r="0.55"/><circle cx="285.48" cy="50.03" r="0.55"/><circle cx="280.00" cy="43.08" r="0.55"/><circle cx="280.13" cy="45.99" r="0.55"/><circle cx="282.99" cy="42.35" r="0.55"/><circle cx="277.24" cy="44.96" r="0.55"/><circle cx="279.37" cy="44.52" r="0.55"/><circle cx="281.13" cy="48.49" r="0.55"/><circle cx="283.23" cy="40.20" r="0.55"/><circle cx="281.34" cy="49.06" r="0.55"/><circle cx="279.21" cy="43.73" r="0.55"/><circle cx="283.36" cy="47.03" r="0.55"/><circle cx="281.74" cy="36.72" r="0.55"/><circle cx="277.47" cy="42.99" r="0.55"/><circle cx="281.43" cy="52.19" r="0.55"/><circle cx="278.43" cy="46.55" r="0.55"/><circle cx="282.35" cy="35.31" r="0.55"/><circle cx="278.54" cy="42.66" r="0.55"/><circle cx="279.32" cy="41.38" r="0.55"/><circle cx="281.63" cy="38.76" r="0.55"/><circle cx="281.62" cy="39.45" r="0.55"/><circle cx="279.19" cy="44.15" r="0.55"/><circle cx="279.12" cy="43.15" r="0.55"/><circle cx="284.34" cy="42.11" r="0.55"/><circle cx="280.15" cy="44.94" r="0.55"/><circle cx="279.62" cy="46.33" r="0.55"/><circle cx="277.42" cy="44.47" r="0.55"/><circle cx="279.27" cy="38.81" r="0.55"/><circle cx="284.75" cy="38.60" r="0.55"/><circle cx="284.72" cy="44.63" r="0.55"/><circle cx="283.99" cy="38.09" r="0.55"/><circle cx="283.38" cy="47.83" r="0.55"/><circle cx="280.22" cy="41.48" r="0.55"/><circle cx="286.39" cy="42.71" r="0.55"/><circle cx="279.49" cy="39.48" r="0.55"/><circle cx="281.57" cy="43.32" r="0.55"/><circle cx="280.93" cy="48.89" r="0.55"/><circle cx="279.71" cy="43.89" r="0.55"/><circle cx="284.00" cy="37.98" r="0.55"/><circle cx="282.99" cy="49.33" r="0.55"/><circle cx="277.25" cy="37.61" r="0.55"/><circle cx="278.01" cy="34.61" r="0.55"/><circle cx="281.59" cy="34.58" r="0.55"/><circle cx="281.70" cy="47.81" r="0.55"/><circle cx="276.62" cy="40.73" r="0.55"/><circle cx="275.90" cy="45.12" r="0.55"/><circle cx="278.73" cy="40.94" r="0.55"/><circle cx="280.63" cy="44.18" r="0.55"/><circle cx="279.67" cy="42.06" r="0.55"/><circle cx="279.19" cy="42.46" r="0.55"/><circle cx="277.69" cy="42.25" r="0.55"/><circle cx="275.86" cy="40.04" r="0.55"/><circle cx="285.10" cy="42.32" r="0.55"/><circle cx="277.48" cy="43.03" r="0.55"/><circle cx="278.17" cy="35.39" r="0.55"/><circle cx="278.73" cy="44.95" r="0.55"/><circle cx="281.42" cy="41.61" r="0.55"/><circle cx="278.28" cy="37.69" r="0.55"/><circle cx="283.74" cy="42.98" r="0.55"/><circle cx="278.22" cy="33.56" r="0.55"/><circle cx="277.21" cy="51.90" r="0.55"/><circle cx="277.74" cy="41.69" r="0.55"/><circle cx="281.00" cy="41.37" r="0.55"/><circle cx="279.83" cy="36.51" r="0.55"/><circle cx="277.98" cy="48.75" r="0.55"/><circle cx="278.68" cy="45.38" r="0.55"/><circle cx="276.43" cy="40.90" r="0.55"/><circle cx="281.13" cy="46.15" r="0.55"/><circle cx="277.81" cy="44.38" r="0.55"/><circle cx="281.43" cy="39.05" r="0.55"/><circle cx="281.65" cy="38.41" r="0.55"/><circle cx="278.59" cy="41.92" r="0.55"/><circle cx="273.99" cy="41.56" r="0.55"/><circle cx="278.10" cy="36.15" r="0.55"/><circle cx="279.48" cy="45.05" r="0.55"/><circle cx="279.53" cy="47.06" r="0.55"/><circle cx="277.72" cy="36.75" r="0.55"/><circle cx="284.22" cy="43.60" r="0.55"/><circle cx="282.77" cy="38.69" r="0.55"/><circle cx="282.43" cy="43.04" r="0.55"/><circle cx="282.06" cy="42.10" r="0.55"/><circle cx="283.40" cy="39.40" r="0.55"/><circle cx="278.19" cy="36.09" r="0.55"/><circle cx="283.29" cy="39.05" r="0.55"/><circle cx="278.00" cy="38.24" r="0.55"/><circle cx="279.43" cy="36.91" r="0.55"/></g>
<g fill="#888" opacity="0.35"><circle cx="282.13" cy="38.75" r="0.5"/><circle cx="281.35" cy="38.08" r="0.5"/><circle cx="283.11" cy="39.08" r="0.5"/><circle cx="283.34" cy="40.50" r="0.5"/><circle cx="284.02" cy="35.62" r="0.5"/><circle cx="281.39" cy="38.41" r="0.5"/><circle cx="285.32" cy="36.84" r="0.5"/><circle cx="280.86" cy="39.41" r="0.5"/><circle cx="281.99" cy="41.98" r="0.5"/><circle cx="281.67" cy="41.93" r="0.5"/><circle cx="278.60" cy="36.38" r="0.5"/><circle cx="286.66" cy="40.87" r="0.5"/><circle cx="284.46" cy="40.25" r="0.5"/><circle cx="284.45" cy="37.57" r="0.5"/><circle cx="285.85" cy="38.94" r="0.5"/><circle cx="285.96" cy="40.18" r="0.5"/><circle cx="277.08" cy="37.43" r="0.5"/><circle cx="286.38" cy="39.73" r="0.5"/><circle cx="281.81" cy="40.49" r="0.5"/><circle cx="281.72" cy="38.91" r="0.5"/><circle cx="283.31" cy="40.29" r="0.5"/><circle cx="287.55" cy="40.09" r="0.5"/><circle cx="288.64" cy="43.61" r="0.5"/><circle cx="288.15" cy="42.12" r="0.5"/><circle cx="283.39" cy="40.27" r="0.5"/><circle cx="282.57" cy="38.54" r="0.5"/><circle cx="282.80" cy="38.72" r="0.5"/><circle cx="287.92" cy="41.07" r="0.5"/><circle cx="281.66" cy="36.17" r="0.5"/><circle cx="282.84" cy="39.17" r="0.5"/><circle cx="279.74" cy="37.73" r="0.5"/><circle cx="276.25" cy="41.14" r="0.5"/><circle cx="282.80" cy="45.16" r="0.5"/><circle cx="282.91" cy="39.70" r="0.5"/><circle cx="287.33" cy="40.27" r="0.5"/><circle cx="283.50" cy="39.26" r="0.5"/><circle cx="281.18" cy="43.00" r="0.5"/><circle cx="286.00" cy="43.43" r="0.5"/><circle cx="281.95" cy="40.06" r="0.5"/><circle cx="280.36" cy="41.93" r="0.5"/><circle cx="278.82" cy="41.13" r="0.5"/><circle cx="286.29" cy="42.82" r="0.5"/><circle cx="280.18" cy="42.18" r="0.5"/><circle cx="280.86" cy="38.49" r="0.5"/><circle cx="279.03" cy="42.31" r="0.5"/><circle cx="287.95" cy="38.81" r="0.5"/><circle cx="280.72" cy="39.32" r="0.5"/><circle cx="290.52" cy="42.01" r="0.5"/><circle cx="281.37" cy="36.41" r="0.5"/><circle cx="280.98" cy="42.37" r="0.5"/><circle cx="288.60" cy="39.47" r="0.5"/><circle cx="280.93" cy="38.98" r="0.5"/><circle cx="277.34" cy="41.82" r="0.5"/><circle cx="279.74" cy="42.13" r="0.5"/><circle cx="277.88" cy="37.46" r="0.5"/><circle cx="283.87" cy="38.47" r="0.5"/><circle cx="285.34" cy="40.02" r="0.5"/><circle cx="279.48" cy="41.24" r="0.5"/><circle cx="285.53" cy="36.17" r="0.5"/><circle cx="288.48" cy="40.99" r="0.5"/></g>
<g fill="#bbb" opacity="0.4"><circle cx="299.40" cy="40.28" r="0.5"/><circle cx="295.70" cy="43.30" r="0.5"/><circle cx="300.19" cy="41.08" r="0.5"/><circle cx="295.29" cy="39.94" r="0.5"/><circle cx="296.90" cy="44.69" r="0.5"/><circle cx="293.28" cy="42.82" r="0.5"/><circle cx="298.78" cy="47.17" r="0.5"/><circle cx="299.16" cy="43.39" r="0.5"/><circle cx="294.56" cy="42.13" r="0.5"/><circle cx="295.84" cy="44.29" r="0.5"/><circle cx="297.38" cy="47.33" r="0.5"/><circle cx="298.22" cy="41.86" r="0.5"/><circle cx="301.36" cy="45.90" r="0.5"/><circle cx="297.75" cy="42.56" r="0.5"/><circle cx="292.82" cy="41.96" r="0.5"/><circle cx="299.78" cy="42.39" r="0.5"/><circle cx="294.20" cy="44.39" r="0.5"/><circle cx="298.11" cy="45.21" r="0.5"/><circle cx="299.14" cy="46.82" r="0.5"/><circle cx="295.40" cy="45.96" r="0.5"/><circle cx="295.03" cy="45.39" r="0.5"/><circle cx="297.95" cy="44.49" r="0.5"/><circle cx="299.92" cy="43.97" r="0.5"/><circle cx="300.28" cy="45.75" r="0.5"/><circle cx="297.84" cy="42.87" r="0.5"/><circle cx="295.62" cy="42.94" r="0.5"/><circle cx="296.99" cy="43.95" r="0.5"/><circle cx="304.95" cy="45.28" r="0.5"/><circle cx="299.42" cy="42.28" r="0.5"/><circle cx="295.72" cy="43.36" r="0.5"/><circle cx="297.98" cy="41.93" r="0.5"/><circle cx="301.53" cy="42.87" r="0.5"/><circle cx="300.20" cy="39.33" r="0.5"/><circle cx="297.48" cy="44.56" r="0.5"/><circle cx="297.98" cy="45.20" r="0.5"/><circle cx="298.20" cy="44.32" r="0.5"/><circle cx="292.77" cy="42.57" r="0.5"/><circle cx="291.64" cy="45.26" r="0.5"/><circle cx="298.27" cy="43.61" r="0.5"/><circle cx="295.45" cy="42.84" r="0.5"/></g>
<path d="M278.6,34.5 C278.8,30.5 280.5,28.5 284.5,27 C289,25.6 294,25 298.5,25.3 C301.3,25.6 302.2,27 301.2,29 C299.8,31.5 297.5,33.4 294.5,34.8 C290.5,36.6 285.5,38.2 281.5,38.6 C279.5,38.8 278.6,37 278.6,34.5 Z" fill="#080808"/>
</g>
<line x1="204" y1="62.2" x2="204" y2="35" stroke="#888" stroke-width="0.9" />
<line x1="204" y1="62.2" x2="232.5" y2="62.2" stroke="#888" stroke-width="0.9" />
<path d="M204,32.5 L202.4,36 L205.6,36 Z" stroke="none" stroke-width="1" fill="#111" />
<path d="M235,62.2 L231.5,60.6 L231.5,63.8 Z" stroke="none" stroke-width="1" fill="#111" />
<text transform="translate(202.2,49) rotate(-90)" font-size="8.3" text-anchor="middle" fill="#333" stroke="none">CD8</text>
<text x="218.5" y="70.1" font-size="8.3" text-anchor="middle" fill="#333" stroke="none">CD4</text>
<text x="237" y="82.2" font-size="8" text-anchor="middle" fill="#222" stroke="#222" stroke-width="0.22"><tspan font-family="Liberation Serif" font-size="9">&#945;</tspan>Hdac1</text>
<text x="294.6" y="82.2" font-size="8" text-anchor="middle" fill="#222" stroke="#222" stroke-width="0.22"><tspan font-family="Liberation Serif" font-size="9">&#945;</tspan>Hdac2</text>
<text x="176.5" y="95.8" font-size="8.3" font-style="italic" fill="#222" stroke="#222" stroke-width="0.22">MxCre<tspan font-size="5.2" dy="-3.3">+</tspan><tspan dy="3.3">;</tspan></text>
<text x="176.3" y="104.6" font-size="8.3" font-style="italic" fill="#222" stroke="#222" stroke-width="0.22">Hdac1<tspan font-size="5.2" dy="-3.3">L/L</tspan></text>
<text x="173.2" y="140.8" font-size="8.3" font-style="italic" fill="#222" stroke="#222" stroke-width="0.22">MxCre<tspan font-size="5.2" dy="-3.3">+</tspan><tspan dy="3.3">;</tspan></text>
<text x="172.8" y="149.6" font-size="8.3" font-style="italic" fill="#222" stroke="#222" stroke-width="0.22">Hdac1<tspan font-size="5.2" dy="-3.3">L/L</tspan><tspan dy="3.3">;</tspan></text>
<text x="172.8" y="158.4" font-size="8.3" font-style="italic" fill="#222" stroke="#222" stroke-width="0.22">Hdac2<tspan font-size="5.2" dy="-3.3">L/L</tspan></text>
<clipPath id="cb1"><rect x="208.2" y="83.2" width="55.6" height="44.1"/></clipPath>
<g clip-path="url(#cb1)">
<rect x="208.2" y="83.2" width="55.6" height="44.1" fill="#c88ac6" stroke="none" stroke-width="1" />
<g filter="url(#b2)">
<rect x="208.2" y="83.2" width="12" height="44.1" fill="#b87cc0" opacity="0.8"/>
<ellipse cx="245" cy="100" rx="14" ry="10" fill="#d8a2d2" opacity="0.8"/>
<ellipse cx="232" cy="118" rx="12" ry="6" fill="#d49ccd" opacity="0.7"/>
<ellipse cx="255" cy="122" rx="9" ry="5" fill="#cc8cc8" opacity="0.7"/>
</g>
<circle cx="250" cy="93" r="1.2" fill="#eccbe8"/>
<circle cx="221" cy="98" r="1" fill="#eccbe8"/>
<circle cx="233" cy="105" r="0.8" fill="#eccbe8"/>
<circle cx="258" cy="107" r="0.9" fill="#eccbe8"/>
<circle cx="240" cy="122" r="0.8" fill="#eccbe8"/>
<circle cx="226" cy="115" r="0.7" fill="#eccbe8"/>
<circle cx="246" cy="112" r="0.7" fill="#eccbe8"/>
</g>
<rect x="208.2" y="83.2" width="55.6" height="44.1" fill="none" stroke="#5a4a6a" stroke-width="0.9" />
<text x="216.8" y="105.4" font-size="10.4" text-anchor="middle" fill="#111" font-weight="normal"  stroke="#111" stroke-width="0.22">T</text>
<clipPath id="cb2"><rect x="265.5" y="83.2" width="55.3" height="44.1"/></clipPath>
<g clip-path="url(#cb2)">
<rect x="265.5" y="83.2" width="55.3" height="44.1" fill="#f4ecf0" stroke="none" stroke-width="1" />
<g filter="url(#b05)">
<path d="M265,83 H321 V109.4 C316,110 312,111 306,111.4 C300,111.6 296,111.5 293,110.6 C287,108 281,105.5 276,103 C271,101 268,100.5 265,100.2 Z" fill="#b45e68"/>
<path d="M265,105.4 C270,106.5 275,108.5 280,110.6 C286,113 292,116.5 296,119.2 C300,122 303,124.5 305,128 H265 Z" fill="#e3cde3"/>
<path d="M265,105.4 C270,106.5 275,108.5 280,110.6 C286,113 292,116.5 296,119.2 C300,122 303,124.5 305,128" stroke="#9a4a5a" stroke-width="1.2" fill="none" opacity="0.8"/>
</g>
<g filter="url(#b2)"><ellipse cx="300" cy="92" rx="12" ry="5" fill="#c06870" opacity="0.6"/></g>
</g>
<rect x="265.5" y="83.2" width="55.3" height="44.1" fill="none" stroke="#555" stroke-width="0.9" />
<text x="296" y="99.6" font-size="10.4" text-anchor="middle" fill="#111" font-weight="normal"  stroke="#111" stroke-width="0.22">T</text>
<clipPath id="cb3"><rect x="208.5" y="128.9" width="55.3" height="44.4"/></clipPath>
<g clip-path="url(#cb3)">
<rect x="208.5" y="128.9" width="55.3" height="44.4" fill="#b2a6c8" stroke="none" stroke-width="1" />
<g filter="url(#b1)">
<path d="M242,128.9 H265 V174 H238 C240,160 241,145 242,128.9 Z" fill="#d6ced2"/>
<path d="M219,136 C226,134 236,137 243,143 L241,147 C235,142 227,139 220,140 Z" fill="#d2cac4"/>
<path d="M215,131 C224,129 236,131 246,136 L245,138 C236,134 226,133 216,134 Z" fill="#c8c0d0"/>
<path d="M226,150 C232,153 236,160 238,174 L233,174 C232,162 229,156 224,153 Z" fill="#9a8ebe"/>
<circle cx="224" cy="165" r="5" fill="#cfc8c6"/>
<circle cx="250" cy="152" r="6" fill="none" stroke="#c8bcc8" stroke-width="1.5"/>
<circle cx="254" cy="138" r="4" fill="none" stroke="#ccc0c8" stroke-width="1.2"/>
</g>
<g filter="url(#b05)"><path d="M209,153.5 C212,149 217,147.5 223,148 C225,148.2 226.5,148.8 227,149.6 L226,151.3 C221,150.2 216,150.8 210,156 Z" fill="#f2f2f0"/></g>
</g>
<rect x="208.5" y="128.9" width="55.3" height="44.4" fill="none" stroke="#555" stroke-width="0.9" />
<text x="216.2" y="163.5" font-size="10.4" text-anchor="middle" fill="#1a1a4a" font-weight="normal"  stroke="#1a1a4a" stroke-width="0.22">T</text>
<clipPath id="cb4"><rect x="265.5" y="128.9" width="54.8" height="44.4"/></clipPath>
<g clip-path="url(#cb4)">
<rect x="265.5" y="128.9" width="54.8" height="44.4" fill="#dddde8" stroke="none" stroke-width="1" />
<g filter="url(#b05)">
<path d="M265,128 H293 C298,133 302,141 304,149 C305,157 304,165 301,174 H265 Z" fill="#b8384a"/>
<path d="M292,128 C297,132 301,139 304,146 C306,150 308,152 310,152.5 L309,155.5 C306,154.5 304,152.5 302,150 Z" fill="#b8384a"/>
<path d="M280,137 C288,136.5 295,141 299,149 L295.5,152 C292,146 287,142.5 280,141.5 Z" fill="#f2f0f4"/>
<path d="M266,147 C275,146 285,150 292,157 L289,160.5 C283,155 275,152 266,152.5 Z" fill="#f2f0f4"/>
<path d="M275,172 C277,165 284,162 292,165.5 L291,169 C286,167 281,168 279,174 Z" fill="#f2f0f4"/>
<path d="M267,133 C273,131 279,131.5 284,134 L283,136 C278,134 272,134 267,135.5 Z" fill="#e4a8b0"/>
<path d="M271,158 C276,157 281,158 285,161 L284,162.5 C280,160.5 276,160 271,160.5 Z" fill="#d88890"/>
</g>
<path d="M300,171 L306,166 M312,167 L318,163 M304,160 L309,156 M313,132 L317,136" stroke="#a83040" stroke-width="1"/>
</g>
<rect x="265.5" y="128.9" width="54.8" height="44.4" fill="none" stroke="#555" stroke-width="0.9" />
<text x="272.5" y="163.2" font-size="10.4" text-anchor="middle" fill="#111" font-weight="normal"  stroke="#111" stroke-width="0.22">T</text>
<text x="331.5" y="10" font-size="11.5" text-anchor="start" fill="#000" font-weight="bold"  stroke="#000" stroke-width="0.22">C</text>
<line x1="357.7" y1="152.0" x2="360.2" y2="152.0" stroke="#333" stroke-width="0.8" />
<text x="356.59999999999997" y="154.2" font-size="6.3" text-anchor="end" fill="#444" font-weight="normal" >0</text>
<line x1="357.7" y1="131.16" x2="360.2" y2="131.16" stroke="#333" stroke-width="0.8" />
<text x="356.59999999999997" y="133.35999999999999" font-size="6.3" text-anchor="end" fill="#444" font-weight="normal" >0.2</text>
<line x1="357.7" y1="110.32" x2="360.2" y2="110.32" stroke="#333" stroke-width="0.8" />
<text x="356.59999999999997" y="112.52" font-size="6.3" text-anchor="end" fill="#444" font-weight="normal" >0.4</text>
<line x1="357.7" y1="89.48" x2="360.2" y2="89.48" stroke="#333" stroke-width="0.8" />
<text x="356.59999999999997" y="91.68" font-size="6.3" text-anchor="end" fill="#444" font-weight="normal" >0.6</text>
<line x1="357.7" y1="68.63999999999999" x2="360.2" y2="68.63999999999999" stroke="#333" stroke-width="0.8" />
<text x="356.59999999999997" y="70.83999999999999" font-size="6.3" text-anchor="end" fill="#444" font-weight="normal" >0.8</text>
<line x1="357.7" y1="47.8" x2="360.2" y2="47.8" stroke="#333" stroke-width="0.8" />
<text x="356.59999999999997" y="50.0" font-size="6.3" text-anchor="end" fill="#444" font-weight="normal" >1.0</text>
<line x1="357.7" y1="26.960000000000008" x2="360.2" y2="26.960000000000008" stroke="#333" stroke-width="0.8" />
<text x="356.59999999999997" y="29.160000000000007" font-size="6.3" text-anchor="end" fill="#444" font-weight="normal" >1.2</text>
<line x1="360.2" y1="26.660000000000007" x2="360.2" y2="152.5" stroke="#111" stroke-width="1.0" />
<line x1="359.7" y1="152" x2="454.5" y2="152" stroke="#111" stroke-width="1.0" />
<line x1="454.5" y1="152" x2="454.5" y2="154" stroke="#111" stroke-width="0.8" />
<text transform="translate(345.9,88.5) rotate(-90)" font-size="8.4" text-anchor="middle" fill="#333" stroke="#333" stroke-width="0.22">total Hdac activity</text>
<rect x="371.79999999999995" y="47.8" width="14.400000000000045" height="104.2" fill="#3f86cc" stroke="#111" stroke-width="0.9" />
<line x1="393.8" y1="67.077" x2="393.8" y2="59.262" stroke="#111" stroke-width="0.9" />
<line x1="391.6" y1="59.262" x2="396.0" y2="59.262" stroke="#111" stroke-width="0.9" />
<rect x="387.0" y="67.077" width="13.599999999999977" height="84.923" fill="#8c5c3a" stroke="#111" stroke-width="0.9" />
<line x1="408.6" y1="52.489000000000004" x2="408.6" y2="43.63199999999999" stroke="#111" stroke-width="0.9" />
<line x1="406.40000000000003" y1="43.63199999999999" x2="410.8" y2="43.63199999999999" stroke="#111" stroke-width="0.9" />
<rect x="401.4" y="52.489000000000004" width="14.399999999999988" height="99.511" fill="#ffffff" stroke="#111" stroke-width="0.9" />
<line x1="423.75" y1="60.304" x2="423.75" y2="51.447" stroke="#111" stroke-width="0.9" />
<line x1="421.55" y1="51.447" x2="425.95" y2="51.447" stroke="#111" stroke-width="0.9" />
<rect x="416.59999999999997" y="60.304" width="14.300000000000022" height="91.696" fill="#d2d2d2" stroke="#111" stroke-width="0.9" />
<line x1="438.70000000000005" y1="85.312" x2="438.70000000000005" y2="83.749" stroke="#111" stroke-width="0.9" />
<line x1="436.50000000000006" y1="83.749" x2="440.90000000000003" y2="83.749" stroke="#111" stroke-width="0.9" />
<rect x="431.7" y="85.312" width="14.00000000000001" height="66.688" fill="#f39a2a" stroke="#111" stroke-width="0.9" />
<path d="M376.9,31.1 V29.5 H440.8 V31.1" stroke="#888" stroke-width="0.8" fill="none" />
<path d="M409.70,24.70 L409.70,29.10 M411.61,25.80 L407.79,28.00 M411.61,28.00 L407.79,25.80 " stroke="#333" stroke-width="0.8" fill="none" />
<path d="M376.9,45.0 V43.4 H394.6 V45.0" stroke="#888" stroke-width="0.8" fill="none" />
<path d="M386.20,38.40 L386.20,42.80 M388.11,39.50 L384.29,41.70 M388.11,41.70 L384.29,39.50 " stroke="#333" stroke-width="0.8" fill="none" />
<path d="M394.3,39.800000000000004 V38.2 H440.0 V39.800000000000004" stroke="#888" stroke-width="0.8" fill="none" />
<path d="M418.50,33.00 L418.50,37.40 M420.41,34.10 L416.59,36.30 M420.41,36.30 L416.59,34.10 " stroke="#333" stroke-width="0.8" fill="none" />
<path d="M424.2,47.4 V45.8 H441.5 V47.4" stroke="#888" stroke-width="0.8" fill="none" />
<path d="M433.10,41.40 L433.10,45.80 M435.01,42.50 L431.19,44.70 M435.01,44.70 L431.19,42.50 " stroke="#333" stroke-width="0.8" fill="none" />
<rect x="446.5" y="31.700000000000003" width="5" height="5" fill="#3f86cc" stroke="#333" stroke-width="0.8" />
<text x="455.4" y="37.20" font-size="8.15" font-style="italic" fill="#222" stroke="#222" stroke-width="0.22"><tspan>WT</tspan></text>
<rect x="446.5" y="41.0" width="5" height="5" fill="#8c5c3a" stroke="#333" stroke-width="0.8" />
<text x="455.4" y="46.50" font-size="8.15" font-style="italic" fill="#222" stroke="#222" stroke-width="0.22"><tspan>Hdac1</tspan><tspan font-size="5.22" dy="-3.42" stroke-width="0.08" fill="#444" stroke="#444">&#916;/&#916;</tspan></text>
<rect x="446.5" y="50.300000000000004" width="5" height="5" fill="#ffffff" stroke="#333" stroke-width="0.8" />
<text x="455.4" y="55.80" font-size="8.15" font-style="italic" fill="#222" stroke="#222" stroke-width="0.22"><tspan>Hdac2</tspan><tspan font-size="5.22" dy="-3.42" stroke-width="0.08" fill="#444" stroke="#444">&#916;/&#916;</tspan></text>
<rect x="446.5" y="59.60000000000001" width="5" height="5" fill="#d2d2d2" stroke="#333" stroke-width="0.8" />
<text x="455.4" y="65.10" font-size="8.15" font-style="italic" fill="#222" stroke="#222" stroke-width="0.22"><tspan>Hdac1</tspan><tspan font-size="5.22" dy="-3.42" stroke-width="0.08" fill="#444" stroke="#444">+/&#916;</tspan><tspan dy="3.42">Hdac2</tspan><tspan font-size="5.22" dy="-3.42" stroke-width="0.08" fill="#444" stroke="#444">&#916;/&#916;</tspan></text>
<rect x="446.5" y="68.9" width="5" height="5" fill="#f39a2a" stroke="#333" stroke-width="0.8" />
<text x="455.4" y="74.40" font-size="8.15" font-style="italic" fill="#222" stroke="#222" stroke-width="0.22"><tspan>Hdac1</tspan><tspan font-size="5.22" dy="-3.42" stroke-width="0.08" fill="#444" stroke="#444">&#916;/&#916;</tspan><tspan dy="3.42">Hdac2</tspan><tspan font-size="5.22" dy="-3.42" stroke-width="0.08" fill="#444" stroke="#444">+/&#916;</tspan></text>
<text x="0.8" y="197.7" font-size="11.5" text-anchor="start" fill="#000" font-weight="bold"  stroke="#000" stroke-width="0.22">D</text>
<line x1="25.7" y1="323.2" x2="28.2" y2="323.2" stroke="#333" stroke-width="0.8" />
<text x="24.3" y="325.4" font-size="6.3" text-anchor="end" fill="#444" font-weight="normal" >0</text>
<line x1="25.7" y1="295.15" x2="28.2" y2="295.15" stroke="#333" stroke-width="0.8" />
<text x="24.3" y="297.34999999999997" font-size="6.3" text-anchor="end" fill="#444" font-weight="normal" >25</text>
<line x1="25.7" y1="267.1" x2="28.2" y2="267.1" stroke="#333" stroke-width="0.8" />
<text x="24.3" y="269.3" font-size="6.3" text-anchor="end" fill="#444" font-weight="normal" >50</text>
<line x1="25.7" y1="239.04999999999998" x2="28.2" y2="239.04999999999998" stroke="#333" stroke-width="0.8" />
<text x="24.3" y="241.24999999999997" font-size="6.3" text-anchor="end" fill="#444" font-weight="normal" >75</text>
<line x1="25.7" y1="211.0" x2="28.2" y2="211.0" stroke="#333" stroke-width="0.8" />
<text x="24.3" y="213.2" font-size="6.3" text-anchor="end" fill="#444" font-weight="normal" >100</text>
<line x1="28.4" y1="323.2" x2="28.4" y2="325.4" stroke="#333" stroke-width="0.8" />
<text x="28.4" y="332.8" font-size="6.0" text-anchor="middle" fill="#444" font-weight="normal" >0</text>
<line x1="44.224999999999994" y1="323.2" x2="44.224999999999994" y2="325.4" stroke="#333" stroke-width="0.8" />
<text x="44.224999999999994" y="332.8" font-size="6.0" text-anchor="middle" fill="#444" font-weight="normal" >5</text>
<line x1="60.05" y1="323.2" x2="60.05" y2="325.4" stroke="#333" stroke-width="0.8" />
<text x="60.05" y="332.8" font-size="6.0" text-anchor="middle" fill="#444" font-weight="normal" >10</text>
<line x1="75.875" y1="323.2" x2="75.875" y2="325.4" stroke="#333" stroke-width="0.8" />
<text x="75.875" y="332.8" font-size="6.0" text-anchor="middle" fill="#444" font-weight="normal" >15</text>
<line x1="91.69999999999999" y1="323.2" x2="91.69999999999999" y2="325.4" stroke="#333" stroke-width="0.8" />
<text x="91.69999999999999" y="332.8" font-size="6.0" text-anchor="middle" fill="#444" font-weight="normal" >20</text>
<line x1="107.525" y1="323.2" x2="107.525" y2="325.4" stroke="#333" stroke-width="0.8" />
<text x="107.525" y="332.8" font-size="6.0" text-anchor="middle" fill="#444" font-weight="normal" >25</text>
<line x1="123.35" y1="323.2" x2="123.35" y2="325.4" stroke="#333" stroke-width="0.8" />
<text x="123.35" y="332.8" font-size="6.0" text-anchor="middle" fill="#444" font-weight="normal" >30</text>
<line x1="139.175" y1="323.2" x2="139.175" y2="325.4" stroke="#333" stroke-width="0.8" />
<text x="139.175" y="332.8" font-size="6.0" text-anchor="middle" fill="#444" font-weight="normal" >35</text>
<line x1="155.0" y1="323.2" x2="155.0" y2="325.4" stroke="#333" stroke-width="0.8" />
<text x="155.0" y="332.8" font-size="6.0" text-anchor="middle" fill="#444" font-weight="normal" >40</text>
<line x1="170.82500000000002" y1="323.2" x2="170.82500000000002" y2="325.4" stroke="#333" stroke-width="0.8" />
<text x="170.82500000000002" y="332.8" font-size="6.0" text-anchor="middle" fill="#444" font-weight="normal" >45</text>
<line x1="186.65" y1="323.2" x2="186.65" y2="325.4" stroke="#333" stroke-width="0.8" />
<text x="186.65" y="332.8" font-size="6.0" text-anchor="middle" fill="#444" font-weight="normal" >50</text>
<line x1="28.2" y1="210.7" x2="28.2" y2="323.7" stroke="#111" stroke-width="1.0" />
<line x1="27.7" y1="323.2" x2="194.6" y2="323.2" stroke="#111" stroke-width="1.0" />
<text x="116.8" y="341.3" font-size="8.3" text-anchor="middle" fill="#333" font-weight="normal"  stroke="#333" stroke-width="0.22">weeks</text>
<text transform="translate(9.6,263.7) rotate(-90)" font-size="8.2" text-anchor="middle" fill="#333" stroke="#333" stroke-width="0.22">% tumor free</text>
<path d="M28.2,211 H82.7 V226.3 H86 V242.2 H89.1 V258 H95.3 V274.6 H105 V290.4 H194.5" stroke="#6e4a2c" stroke-width="1.6" fill="none" />
<path d="M28.2,211 H194.5" stroke="#bdbdbd" stroke-width="1.5" fill="none" />
<path d="M89.1,211 V218.7 H104.9 V229.3 H108.2 V240 H121.1 V250.4 H194.5" stroke="#bdbdbd" stroke-width="1.5" fill="none" />
<path d="M89.1,218.7 H98.5" stroke="#9bcf7a" stroke-width="1.2" fill="none" />
<path d="M185,211 V220.8 H194.3" stroke="#8a1d4f" stroke-width="1.5" fill="none" />
<path d="M89.1,211 H194.5" stroke="#1ea6d6" stroke-width="1.6" fill="none" />
<path d="M28.2,211 H43.9 V215.8 H51 V230.4 H53.6 V236 H57.1 V251.4 H60.7 V271.4 H63.3 V287 H66.8 V291.8 H69.8 V307 H72.8 V317.7 H79.5 V323.2" stroke="#f29526" stroke-width="1.7" fill="none" />
<circle cx="43.9" cy="215.8" r="1.05" fill="#000"/>
<circle cx="51" cy="230.4" r="1.05" fill="#000"/>
<circle cx="53.6" cy="236" r="1.05" fill="#000"/>
<circle cx="57.1" cy="251.4" r="1.05" fill="#000"/>
<circle cx="60.7" cy="271.4" r="1.05" fill="#000"/>
<circle cx="63.3" cy="287" r="1.05" fill="#000"/>
<circle cx="66.8" cy="291.8" r="1.05" fill="#000"/>
<circle cx="69.8" cy="307" r="1.05" fill="#000"/>
<circle cx="72.8" cy="317.7" r="1.05" fill="#000"/>
<circle cx="79.5" cy="323" r="1.05" fill="#000"/>
<circle cx="82.7" cy="226.3" r="1.05" fill="#000"/>
<circle cx="86" cy="242.2" r="1.05" fill="#000"/>
<circle cx="89.1" cy="258" r="1.05" fill="#000"/>
<circle cx="95.3" cy="274.6" r="1.05" fill="#000"/>
<circle cx="105" cy="290.4" r="1.05" fill="#000"/>
<circle cx="194.3" cy="290.2" r="1.05" fill="#000"/>
<circle cx="89.1" cy="218.7" r="1.05" fill="#000"/>
<circle cx="98.5" cy="218.7" r="1.05" fill="#000"/>
<circle cx="104.9" cy="229.3" r="1.05" fill="#000"/>
<circle cx="108.2" cy="240" r="1.05" fill="#000"/>
<circle cx="121.1" cy="250.4" r="1.05" fill="#000"/>
<circle cx="168.8" cy="250.4" r="1.05" fill="#000"/>
<circle cx="194.3" cy="250.4" r="1.05" fill="#000"/>
<circle cx="136.5" cy="211" r="1.05" fill="#000"/>
<circle cx="161.9" cy="211" r="1.05" fill="#000"/>
<circle cx="174.6" cy="211" r="1.05" fill="#000"/>
<circle cx="194.3" cy="211" r="1.05" fill="#000"/>
<text x="134.5" y="196.6" font-size="8.1" text-anchor="start" fill="#222" font-weight="normal" font-style="italic"  stroke="#222" stroke-width="0.22">WT</text>
<text x="134.7" y="207" font-size="8.2" font-style="italic" fill="#222" stroke="#222" stroke-width="0.22"><tspan>Hdac2</tspan><tspan font-size="5.25" dy="-3.44" stroke-width="0.08" fill="#444" stroke="#444">&#916;/&#916;</tspan></text>
<text x="140.5" y="230" font-size="8.2" font-style="italic" fill="#222" stroke="#222" stroke-width="0.22"><tspan>Hdac1</tspan><tspan font-size="5.25" dy="-3.44" stroke-width="0.08" fill="#444" stroke="#444">+/&#916;</tspan><tspan dy="3.44">Hdac2</tspan><tspan font-size="5.25" dy="-3.44" stroke-width="0.08" fill="#444" stroke="#444">+/&#916;</tspan></text>
<text x="127.3" y="245.5" font-size="8.2" font-style="italic" fill="#222" stroke="#222" stroke-width="0.22"><tspan>Hdac1</tspan><tspan font-size="5.25" dy="-3.44" stroke-width="0.08" fill="#444" stroke="#444">+/&#916;</tspan><tspan dy="3.44">Hdac2</tspan><tspan font-size="5.25" dy="-3.44" stroke-width="0.08" fill="#444" stroke="#444">&#916;/&#916;</tspan></text>
<text x="109.7" y="286.2" font-size="8.2" font-style="italic" fill="#222" stroke="#222" stroke-width="0.22"><tspan>Hdac1</tspan><tspan font-size="5.25" dy="-3.44" stroke-width="0.08" fill="#444" stroke="#444">&#916;/&#916;</tspan></text>
<text x="78" y="315.4" font-size="8.2" font-style="italic" fill="#222" stroke="#222" stroke-width="0.22"><tspan>Hdac1</tspan><tspan font-size="5.25" dy="-3.44" stroke-width="0.08" fill="#444" stroke="#444">&#916;/&#916;</tspan><tspan dy="3.44">Hdac2</tspan><tspan font-size="5.25" dy="-3.44" stroke-width="0.08" fill="#444" stroke="#444">+/&#916;</tspan></text>
<path d="M150.6,260.8 H152 V276.9 H150.6" stroke="#999" stroke-width="0.9" fill="none" />
<text x="153.5" y="271" font-size="8.2" text-anchor="start" fill="#333" font-weight="normal"  stroke="#333" stroke-width="0.22">p=0.04</text>
<path d="M150.6,299.5 H152 V316.2 H150.6" stroke="#999" stroke-width="0.9" fill="none" />
<text x="153.5" y="310.3" font-size="8.2" text-anchor="start" fill="#333" font-weight="normal"  stroke="#333" stroke-width="0.22">p&lt;0.0001</text>
<text x="1.5" y="371.2" font-size="11.5" text-anchor="start" fill="#000" font-weight="bold"  stroke="#000" stroke-width="0.22">F</text>
<line x1="27.7" y1="491.0" x2="30.2" y2="491.0" stroke="#333" stroke-width="0.8" />
<text x="26.4" y="493.2" font-size="6.3" text-anchor="end" fill="#444" font-weight="normal" >0</text>
<line x1="27.7" y1="474.05" x2="30.2" y2="474.05" stroke="#333" stroke-width="0.8" />
<text x="26.4" y="476.25" font-size="6.3" text-anchor="end" fill="#444" font-weight="normal" >1</text>
<line x1="27.7" y1="457.1" x2="30.2" y2="457.1" stroke="#333" stroke-width="0.8" />
<text x="26.4" y="459.3" font-size="6.3" text-anchor="end" fill="#444" font-weight="normal" >2</text>
<line x1="27.7" y1="440.15" x2="30.2" y2="440.15" stroke="#333" stroke-width="0.8" />
<text x="26.4" y="442.34999999999997" font-size="6.3" text-anchor="end" fill="#444" font-weight="normal" >3</text>
<line x1="27.7" y1="423.2" x2="30.2" y2="423.2" stroke="#333" stroke-width="0.8" />
<text x="26.4" y="425.4" font-size="6.3" text-anchor="end" fill="#444" font-weight="normal" >4</text>
<line x1="27.7" y1="406.25" x2="30.2" y2="406.25" stroke="#333" stroke-width="0.8" />
<text x="26.4" y="408.45" font-size="6.3" text-anchor="end" fill="#444" font-weight="normal" >5</text>
<line x1="27.7" y1="389.3" x2="30.2" y2="389.3" stroke="#333" stroke-width="0.8" />
<text x="26.4" y="391.5" font-size="6.3" text-anchor="end" fill="#444" font-weight="normal" >6</text>
<line x1="30.2" y1="389.0" x2="30.2" y2="491.5" stroke="#111" stroke-width="1.0" />
<line x1="29.7" y1="491" x2="143.6" y2="491" stroke="#111" stroke-width="1.0" />
<text transform="translate(16.6,436.8) rotate(-90)" font-size="8.2" text-anchor="middle" fill="#333" stroke="#333" stroke-width="0.22">HDAC activity (AFU)</text>
<line x1="70.4" y1="408.284" x2="70.4" y2="404.555" stroke="#111" stroke-width="0.9" />
<line x1="68.0" y1="404.555" x2="72.80000000000001" y2="404.555" stroke="#111" stroke-width="0.9" />
<rect x="54.199999999999996" y="408.284" width="32.400000000000006" height="82.71600000000001" fill="#000000" stroke="#111" stroke-width="0.9" />
<line x1="102.9" y1="436.76" x2="102.9" y2="429.1325" stroke="#111" stroke-width="0.9" />
<line x1="100.5" y1="429.1325" x2="105.30000000000001" y2="429.1325" stroke="#111" stroke-width="0.9" />
<rect x="87.4" y="436.76" width="30.999999999999996" height="54.24000000000001" fill="#f39a2a" stroke="#111" stroke-width="0.9" />
<path d="M69.5,398.7 V397.2 H103.9 V398.7" stroke="#888" stroke-width="0.8" fill="none" />
<path d="M88.60,390.80 L88.60,394.40 M90.16,391.70 L87.04,393.50 M90.16,393.50 L87.04,391.70 " stroke="#333" stroke-width="0.9" fill="none" />
<rect x="53.8" y="365.6" width="5" height="4.6" fill="#000" stroke="#000" stroke-width="0.6" />
<rect x="53.8" y="376.3" width="5" height="4.6" fill="#f39a2a" stroke="#333" stroke-width="0.6" />
<text x="61.3" y="370.6" font-size="8.4" font-style="italic" fill="#222" stroke="#222" stroke-width="0.22">E<tspan font-style="normal" font-family="Liberation Serif" font-size="9">&#956;</tspan>-Myc</text>
<text x="61.3" y="381" font-size="8.4" font-style="italic" fill="#222" stroke="#222" stroke-width="0.22"><tspan>Hdac1</tspan><tspan font-size="5.38" dy="-3.53" stroke-width="0.08" fill="#444" stroke="#444">&#916;/&#916;</tspan><tspan dy="3.53">Hdac2</tspan><tspan font-size="5.38" dy="-3.53" stroke-width="0.08" fill="#444" stroke="#444">+/&#916;</tspan></text>
<text x="178.6" y="369.4" font-size="11.5" text-anchor="start" fill="#000" font-weight="bold"  stroke="#000" stroke-width="0.22">G</text>
<line x1="197.1" y1="491.0" x2="199.6" y2="491.0" stroke="#333" stroke-width="0.8" />
<text x="196.0" y="493.2" font-size="6.3" text-anchor="end" fill="#444" font-weight="normal" >0</text>
<line x1="197.1" y1="468.7" x2="199.6" y2="468.7" stroke="#333" stroke-width="0.8" />
<text x="196.0" y="470.9" font-size="6.3" text-anchor="end" fill="#444" font-weight="normal" >20</text>
<line x1="197.1" y1="446.4" x2="199.6" y2="446.4" stroke="#333" stroke-width="0.8" />
<text x="196.0" y="448.59999999999997" font-size="6.3" text-anchor="end" fill="#444" font-weight="normal" >40</text>
<line x1="197.1" y1="424.1" x2="199.6" y2="424.1" stroke="#333" stroke-width="0.8" />
<text x="196.0" y="426.3" font-size="6.3" text-anchor="end" fill="#444" font-weight="normal" >60</text>
<line x1="197.1" y1="401.8" x2="199.6" y2="401.8" stroke="#333" stroke-width="0.8" />
<text x="196.0" y="404.0" font-size="6.3" text-anchor="end" fill="#444" font-weight="normal" >80</text>
<line x1="197.1" y1="379.5" x2="199.6" y2="379.5" stroke="#333" stroke-width="0.8" />
<text x="196.0" y="381.7" font-size="6.3" text-anchor="end" fill="#444" font-weight="normal" >100</text>
<line x1="199.6" y1="491.0" x2="199.6" y2="493.2" stroke="#333" stroke-width="0.8" />
<text x="199.6" y="500.3" font-size="6.3" text-anchor="middle" fill="#444" font-weight="normal" >0</text>
<line x1="233.93" y1="491.0" x2="233.93" y2="493.2" stroke="#333" stroke-width="0.8" />
<text x="233.93" y="500.3" font-size="6.3" text-anchor="middle" fill="#444" font-weight="normal" >1000</text>
<line x1="268.26" y1="491.0" x2="268.26" y2="493.2" stroke="#333" stroke-width="0.8" />
<text x="268.26" y="500.3" font-size="6.3" text-anchor="middle" fill="#444" font-weight="normal" >2000</text>
<line x1="302.59" y1="491.0" x2="302.59" y2="493.2" stroke="#333" stroke-width="0.8" />
<text x="302.59" y="500.3" font-size="6.3" text-anchor="middle" fill="#444" font-weight="normal" >3000</text>
<line x1="336.91999999999996" y1="491.0" x2="336.91999999999996" y2="493.2" stroke="#333" stroke-width="0.8" />
<text x="336.91999999999996" y="500.3" font-size="6.3" text-anchor="middle" fill="#444" font-weight="normal" >4000</text>
<line x1="371.25" y1="491.0" x2="371.25" y2="493.2" stroke="#333" stroke-width="0.8" />
<text x="371.25" y="500.3" font-size="6.3" text-anchor="middle" fill="#444" font-weight="normal" >5000</text>
<line x1="199.6" y1="377.5" x2="199.6" y2="491.5" stroke="#555" stroke-width="1.0" />
<line x1="199.1" y1="491.0" x2="373.8" y2="491.0" stroke="#555" stroke-width="1.0" />
<text x="286.4" y="509.5" font-size="8.4" text-anchor="middle" fill="#333" font-weight="normal"  stroke="#333" stroke-width="0.22">SAHA [nM]</text>
<text transform="translate(185,427.3) rotate(-90)" font-size="8.6" text-anchor="middle" fill="#333" stroke="#333" stroke-width="0.22">% survival</text>
<line x1="309.5" y1="383.6" x2="315" y2="383.6" stroke="#111" stroke-width="1.3" />
<line x1="309.5" y1="394.3" x2="315" y2="394.3" stroke="#f3b468" stroke-width="1.3" />
<text x="318.2" y="386.7" font-size="8.4" font-style="italic" fill="#222" stroke="#222" stroke-width="0.22">E<tspan font-style="normal" font-family="Liberation Serif" font-size="9">&#956;</tspan>-Myc</text>
<text x="318.2" y="397.8" font-size="8.4" font-style="italic" fill="#222" stroke="#222" stroke-width="0.22"><tspan>Hdac1</tspan><tspan font-size="5.38" dy="-3.53" stroke-width="0.08" fill="#444" stroke="#444">&#916;/&#916;</tspan><tspan dy="3.53">Hdac2</tspan><tspan font-size="5.38" dy="-3.53" stroke-width="0.08" fill="#444" stroke="#444">+/&#916;</tspan></text>
<path d="M200,382 C201.5,386 202.5,395 203,404 C203.8,420 205.5,445 207.7,457.5 C210,469 213,478 217,481 C222,483.5 228,484.3 240,484.5 L371.8,484.8" stroke="#f0a53c" stroke-width="1.1" fill="none" />
<path d="M200,381 C203,382 206,384 207.7,387 C210,400 213.5,428 217,450 C220,466 226,475 234,478.5 C250,483.5 290,484.3 371.8,484.5" stroke="#f0a53c" stroke-width="1.1" fill="none" />
<path d="M200,381 C203,382.5 206,385 207.7,389 C210,405 213.5,437 217,461.8 C220,473 226,479 234,481.5 C250,484.3 290,484.5 371.8,484.5" stroke="#f0a53c" stroke-width="1.1" fill="none" />
<path d="M200,383 C203,385 206,388 207.7,392 C210,408 213,440 216,468 C219,478 226,481.5 240,483.5 L371.8,484.5" stroke="#f0a53c" stroke-width="1.1" fill="none" />
<path d="M200,380 C205,378.8 212,378 217,378.2 C222,380 228,384 234,387 L371.8,446" stroke="#222" stroke-width="1.1" fill="none" />
<path d="M200,381 C205,380 212,379 217,379 C222,382 228,386.5 234,390 L371.8,452.8" stroke="#222" stroke-width="1.1" fill="none" />
<path d="M200,380 C206,380 212,380.5 217,383 C222,390 227,400 234,407.5 L371.8,484.5" stroke="#222" stroke-width="1.1" fill="none" />
<path d="M200,381 C206,381 213,382 217,386.5 C219,395 220,405 222,414 C225,423 229,428 234,431 L371.8,484.5" stroke="#222" stroke-width="1.1" fill="none" />
<line x1="234.1" y1="385.6" x2="234.1" y2="391.4" stroke="#111" stroke-width="0.8" />
<line x1="232.7" y1="385.6" x2="235.5" y2="385.6" stroke="#111" stroke-width="0.8" />
<line x1="232.7" y1="391.4" x2="235.5" y2="391.4" stroke="#111" stroke-width="0.8" />
<line x1="234.1" y1="403.5" x2="234.1" y2="415" stroke="#111" stroke-width="0.8" />
<line x1="232.7" y1="403.5" x2="235.5" y2="403.5" stroke="#111" stroke-width="0.8" />
<line x1="232.7" y1="415" x2="235.5" y2="415" stroke="#111" stroke-width="0.8" />
<line x1="234.1" y1="420.4" x2="234.1" y2="442.8" stroke="#111" stroke-width="0.8" />
<line x1="232.7" y1="420.4" x2="235.5" y2="420.4" stroke="#111" stroke-width="0.8" />
<line x1="232.7" y1="442.8" x2="235.5" y2="442.8" stroke="#111" stroke-width="0.8" />
<line x1="371.8" y1="440.2" x2="371.8" y2="456" stroke="#111" stroke-width="0.8" />
<line x1="370.40000000000003" y1="440.2" x2="373.2" y2="440.2" stroke="#111" stroke-width="0.8" />
<line x1="370.40000000000003" y1="456" x2="373.2" y2="456" stroke="#111" stroke-width="0.8" />
<line x1="216.9" y1="376.5" x2="216.9" y2="381" stroke="#111" stroke-width="0.8" />
<line x1="215.5" y1="376.5" x2="218.3" y2="376.5" stroke="#111" stroke-width="0.8" />
<line x1="215.5" y1="381" x2="218.3" y2="381" stroke="#111" stroke-width="0.8" />
<line x1="216.9" y1="384" x2="216.9" y2="389" stroke="#111" stroke-width="0.8" />
<line x1="215.5" y1="384" x2="218.3" y2="384" stroke="#111" stroke-width="0.8" />
<line x1="215.5" y1="389" x2="218.3" y2="389" stroke="#111" stroke-width="0.8" />
<line x1="200" y1="376" x2="200" y2="386" stroke="#111" stroke-width="0.8" />
<line x1="198.6" y1="376" x2="201.4" y2="376" stroke="#111" stroke-width="0.8" />
<line x1="198.6" y1="386" x2="201.4" y2="386" stroke="#111" stroke-width="0.8" />
<line x1="201.2" y1="377" x2="201.2" y2="390" stroke="#111" stroke-width="0.8" />
<line x1="199.79999999999998" y1="377" x2="202.6" y2="377" stroke="#111" stroke-width="0.8" />
<line x1="199.79999999999998" y1="390" x2="202.6" y2="390" stroke="#111" stroke-width="0.8" />
<line x1="207.9" y1="377" x2="207.9" y2="394" stroke="#111" stroke-width="0.8" />
<line x1="206.5" y1="377" x2="209.3" y2="377" stroke="#111" stroke-width="0.8" />
<line x1="206.5" y1="394" x2="209.3" y2="394" stroke="#111" stroke-width="0.8" />
<line x1="200.5" y1="384" x2="200.5" y2="396" stroke="#111" stroke-width="0.8" />
<line x1="199.1" y1="384" x2="201.9" y2="384" stroke="#111" stroke-width="0.8" />
<line x1="199.1" y1="396" x2="201.9" y2="396" stroke="#111" stroke-width="0.8" />
<line x1="203" y1="396.6" x2="203" y2="404" stroke="#111" stroke-width="0.8" />
<line x1="201.6" y1="396.6" x2="204.4" y2="396.6" stroke="#111" stroke-width="0.8" />
<line x1="201.6" y1="404" x2="204.4" y2="404" stroke="#111" stroke-width="0.8" />
<line x1="207.9" y1="400.5" x2="207.9" y2="404.5" stroke="#111" stroke-width="0.8" />
<line x1="206.5" y1="400.5" x2="209.3" y2="400.5" stroke="#111" stroke-width="0.8" />
<line x1="206.5" y1="404.5" x2="209.3" y2="404.5" stroke="#111" stroke-width="0.8" />
<line x1="216.9" y1="410" x2="216.9" y2="422.5" stroke="#111" stroke-width="0.8" />
<line x1="215.5" y1="410" x2="218.3" y2="410" stroke="#111" stroke-width="0.8" />
<line x1="215.5" y1="422.5" x2="218.3" y2="422.5" stroke="#111" stroke-width="0.8" />
<line x1="216.9" y1="447.8" x2="216.9" y2="452" stroke="#111" stroke-width="0.8" />
<line x1="215.5" y1="447.8" x2="218.3" y2="447.8" stroke="#111" stroke-width="0.8" />
<line x1="215.5" y1="452" x2="218.3" y2="452" stroke="#111" stroke-width="0.8" />
<line x1="216.9" y1="458.6" x2="216.9" y2="466" stroke="#111" stroke-width="0.8" />
<line x1="215.5" y1="458.6" x2="218.3" y2="458.6" stroke="#111" stroke-width="0.8" />
<line x1="215.5" y1="466" x2="218.3" y2="466" stroke="#111" stroke-width="0.8" />
<line x1="234.1" y1="476" x2="234.1" y2="486" stroke="#111" stroke-width="0.8" />
<line x1="232.7" y1="476" x2="235.5" y2="476" stroke="#111" stroke-width="0.8" />
<line x1="232.7" y1="486" x2="235.5" y2="486" stroke="#111" stroke-width="0.8" />
<rect x="202.2" y="399.7" width="1.6" height="1.6" fill="#111" stroke="none" stroke-width="1" />
<rect x="206.89999999999998" y="456.2" width="1.6" height="1.6" fill="#111" stroke="none" stroke-width="1" />
<rect x="216.2" y="480.2" width="1.6" height="1.6" fill="#111" stroke="none" stroke-width="1" />
<rect x="216.2" y="449.2" width="1.6" height="1.6" fill="#111" stroke="none" stroke-width="1" />
<rect x="216.2" y="461.0" width="1.6" height="1.6" fill="#111" stroke="none" stroke-width="1" />
<rect x="233.29999999999998" y="480.2" width="1.6" height="1.6" fill="#111" stroke="none" stroke-width="1" />
<rect x="233.29999999999998" y="483.2" width="1.6" height="1.6" fill="#111" stroke="none" stroke-width="1" />
<rect x="371.0" y="483.7" width="1.6" height="1.6" fill="#111" stroke="none" stroke-width="1" />
<rect x="233.29999999999998" y="386.7" width="1.6" height="1.6" fill="#111" stroke="none" stroke-width="1" />
<rect x="233.29999999999998" y="389.2" width="1.6" height="1.6" fill="#111" stroke="none" stroke-width="1" />
<rect x="233.29999999999998" y="407.2" width="1.6" height="1.6" fill="#111" stroke="none" stroke-width="1" />
<rect x="233.29999999999998" y="430.2" width="1.6" height="1.6" fill="#111" stroke="none" stroke-width="1" />
<rect x="371.0" y="445.2" width="1.6" height="1.6" fill="#111" stroke="none" stroke-width="1" />
<rect x="371.0" y="452.0" width="1.6" height="1.6" fill="#111" stroke="none" stroke-width="1" />
<rect x="216.0" y="377.5" width="1.6" height="1.6" fill="#111" stroke="none" stroke-width="1" />
<rect x="216.1" y="385.7" width="1.6" height="1.6" fill="#111" stroke="none" stroke-width="1" />
<rect x="207.1" y="380.2" width="1.6" height="1.6" fill="#111" stroke="none" stroke-width="1" />
<rect x="207.1" y="384.2" width="1.6" height="1.6" fill="#111" stroke="none" stroke-width="1" />
<rect x="207.1" y="388.2" width="1.6" height="1.6" fill="#111" stroke="none" stroke-width="1" />
<rect x="207.1" y="401.7" width="1.6" height="1.6" fill="#111" stroke="none" stroke-width="1" />
<rect x="199.7" y="377.2" width="1.6" height="1.6" fill="#111" stroke="none" stroke-width="1" />
<rect x="199.7" y="380.2" width="1.6" height="1.6" fill="#111" stroke="none" stroke-width="1" />
<rect x="199.7" y="383.2" width="1.6" height="1.6" fill="#111" stroke="none" stroke-width="1" />
<rect x="200.7" y="386.2" width="1.6" height="1.6" fill="#111" stroke="none" stroke-width="1" />
<rect x="199.7" y="389.2" width="1.6" height="1.6" fill="#111" stroke="none" stroke-width="1" />
<rect x="216.1" y="415.2" width="1.6" height="1.6" fill="#111" stroke="none" stroke-width="1" />
<text x="230.9" y="197.6" font-size="11.5" text-anchor="start" fill="#000" font-weight="bold"  stroke="#000" stroke-width="0.22">E</text>
<text x="254.7" y="199.6" font-size="8.3" font-style="italic" fill="#222" stroke="#222" stroke-width="0.22"><tspan>Hdac1</tspan><tspan font-size="5.31" dy="-3.49" stroke-width="0.08" fill="#444" stroke="#444">&#916;/&#916;</tspan></text>
<text x="302.2" y="199.6" font-size="8.3" font-style="italic" fill="#222" stroke="#222" stroke-width="0.22"><tspan>Hdac1</tspan><tspan font-size="5.31" dy="-3.49" stroke-width="0.08" fill="#444" stroke="#444">+/&#916;</tspan><tspan dy="3.49">Hdac2</tspan><tspan font-size="5.31" dy="-3.49" stroke-width="0.08" fill="#444" stroke="#444">&#916;/&#916;</tspan></text>
<text x="370.2" y="199.6" font-size="8.3" font-style="italic" fill="#222" stroke="#222" stroke-width="0.22"><tspan>Hdac1</tspan><tspan font-size="5.31" dy="-3.49" stroke-width="0.08" fill="#444" stroke="#444">&#916;/&#916;</tspan><tspan dy="3.49">Hdac2</tspan><tspan font-size="5.31" dy="-3.49" stroke-width="0.08" fill="#444" stroke="#444">+/&#916;</tspan></text>
<text x="437.1" y="227.3" font-size="7.8" text-anchor="start" fill="#222" font-weight="normal"  stroke="#222" stroke-width="0.22">HE</text>
<text x="436.7" y="268.5" font-size="7.9" fill="#222" stroke="#222" stroke-width="0.22"><tspan font-family="Liberation Serif" font-size="10">&#945;</tspan>Hdac1</text>
<text x="436.7" y="315.1" font-size="7.9" fill="#222" stroke="#222" stroke-width="0.22"><tspan font-family="Liberation Serif" font-size="10">&#945;</tspan>Hdac2</text>
<clipPath id="ce00"><rect x="233.0" y="202.2" width="65.6" height="41.9"/></clipPath>
<g clip-path="url(#ce00)"><g transform="translate(233.0,202.2)">
<rect x="0" y="0" width="65.6" height="41.9" fill="#e6b2cc" stroke="none" stroke-width="1" />
<g filter="url(#b1)">
<path d="M0,0 H45.5 C46.5,6 46.5,14 45,24 C43.5,32 41,38 37.5,42 H0 Z" fill="#bd82c6"/>
<path d="M45.5,0 C46.5,6 46.5,14 45,24 C43.5,32 41,38 37.5,42 H42 C45,36 47.5,28 48.5,18 C49,10 48.5,4 47.8,0 Z" fill="#f5e6f0"/>
<rect x="58" y="0" width="8" height="42" fill="#e09cc2" opacity="0.8"/>
<path d="M51,2 C53,14 54,26 56,42" stroke="#f0d2e4" stroke-width="1.6" fill="none"/>
<ellipse cx="18" cy="16" rx="12" ry="9" fill="#c88ccc" opacity="0.5"/>
<ellipse cx="10" cy="34" rx="9" ry="6" fill="#b478c2" opacity="0.5"/>
</g>
<g fill="#dab0dc">
<circle cx="12" cy="9" r="0.9"/><circle cx="25" cy="13" r="0.8"/><circle cx="31" cy="22" r="0.9"/><circle cx="16" cy="27" r="0.8"/><circle cx="6" cy="20" r="0.7"/><circle cx="36" cy="8" r="0.7"/><circle cx="22" cy="35" r="0.8"/><circle cx="30" cy="31" r="0.7"/><circle cx="40" cy="15" r="0.7"/><circle cx="8" cy="4" r="0.7"/>
</g>
</g></g>
<rect x="233.0" y="202.2" width="65.6" height="41.9" fill="none" stroke="#363640" stroke-width="1.1" />
<clipPath id="ce01"><rect x="300.3" y="202.2" width="65.6" height="41.9"/></clipPath>
<g clip-path="url(#ce01)"><g transform="translate(300.3,202.2)">
<rect x="0" y="0" width="65.6" height="41.9" fill="#a47ec4" stroke="none" stroke-width="1" />
<g filter="url(#b1)">
<ellipse cx="6" cy="4" rx="10" ry="6" fill="#c4a8d8" opacity="0.9"/>
<path d="M6,0 C9,12 8,28 10,42 H4 C3,28 4,12 2,0 Z" fill="#cfb0dc" opacity="0.8"/>
<path d="M35,14 C37,22 39,32 40,42 H47 C45,30 44,20 42,12 Z" fill="#d4aad8" opacity="0.8"/>
<ellipse cx="24" cy="22" rx="11" ry="13" fill="#946cb6" opacity="0.7"/>
<ellipse cx="56" cy="30" rx="8" ry="10" fill="#bc9cd2" opacity="0.6"/>
</g>
<path d="M43,21 C50,16 58,12 66,8" stroke="#eadcf0" stroke-width="1.1" fill="none"/>
</g></g>
<rect x="300.3" y="202.2" width="65.6" height="41.9" fill="none" stroke="#363640" stroke-width="1.1" />
<clipPath id="ce02"><rect x="367.4" y="202.2" width="65.6" height="41.9"/></clipPath>
<g clip-path="url(#ce02)"><g transform="translate(367.4,202.2)">
<rect x="0" y="0" width="65.6" height="41.9" fill="#a677be" stroke="none" stroke-width="1" />
<g filter="url(#b1)">
<ellipse cx="10" cy="6" rx="12" ry="7" fill="#c892cc"/>
<path d="M2,14 C10,10 22,12 30,22 C32,26 30,30 26,30 C20,26 10,24 2,26 Z" fill="#8d5fae"/>
<path d="M26,8 C32,8 38,14 41,22 C43,30 42,38 41,42 H25 C27,34 27,24 26,16 Z" fill="#dfb6d8"/>
<ellipse cx="11" cy="35" rx="6.5" ry="6.5" fill="#df8cbc"/>
<ellipse cx="51" cy="8" rx="8" ry="6.5" fill="#d996c6"/>
<path d="M40,14 C48,18 56,22 66,24 V31 C56,30 48,27 42,24 Z" fill="#8c5aa8" opacity="0.9"/>
<ellipse cx="52" cy="34" rx="6.5" ry="5.5" fill="#e4c2de"/>
</g>
<path d="M12,18 C17,17 22,18 26,21" stroke="#f8eef8" stroke-width="1.5" fill="none"/>
<circle cx="24" cy="30" r="1.6" fill="#f4e8f2"/>
<g fill="#f2dcef"><circle cx="31" cy="22" r="0.9"/><circle cx="35" cy="30" r="0.9"/><circle cx="30" cy="36" r="0.8"/><circle cx="37" cy="18" r="0.8"/></g>
</g></g>
<rect x="367.4" y="202.2" width="65.6" height="41.9" fill="none" stroke="#363640" stroke-width="1.1" />
<clipPath id="ce10"><rect x="233.0" y="244.8" width="65.6" height="41.9"/></clipPath>
<g clip-path="url(#ce10)"><g transform="translate(233.0,244.8)">
<rect x="0" y="0" width="65.6" height="41.9" fill="#a084c6" stroke="none" stroke-width="1" />
<g filter="url(#b1)">
<path d="M0,0 H36 C38.5,8 38.5,16 37,24 C35,31 32,37 28,42 H0 Z" fill="#d6ccd2"/>
<path d="M36,0 C38.5,8 38.5,16 37,24 C35,31 32,37 28,42 H30.5 C34.5,37 37.5,31 39.3,24 C40.8,16 40.5,8 38.2,0 Z" fill="#f0eaf0"/>
<ellipse cx="8" cy="8" rx="8" ry="6" fill="#bcb0d0" opacity="0.8"/>
<ellipse cx="6" cy="30" rx="5" ry="6" fill="#cbb4bf" opacity="0.8"/>
<ellipse cx="22" cy="16" rx="6" ry="5" fill="#c8bcd0" opacity="0.6"/>
<ellipse cx="24" cy="26" rx="3" ry="3" fill="#e8e0e8"/>
</g>
<path d="M59,0 H66 V8 Z" fill="#f4f0f4"/>
</g></g>
<rect x="233.0" y="244.8" width="65.6" height="41.9" fill="none" stroke="#363640" stroke-width="1.1" />
<clipPath id="ce11"><rect x="300.3" y="244.8" width="65.6" height="41.9"/></clipPath>
<g clip-path="url(#ce11)"><g transform="translate(300.3,244.8)">
<rect x="0" y="0" width="65.6" height="41.9" fill="#d9cccd" stroke="none" stroke-width="1" />
<g filter="url(#b1)">
<path d="M0,0 H42 C40,8 33,14 24,18 C16,22 8,25 0,27 Z" fill="#a65e5c"/>
<path d="M27,21 C38,19 52,16 66,13 V42 H37 C34,34 31,27 27,21 Z" fill="#a25656"/>
<path d="M44,0 H66 V8 C58,9 50,8 44,6 Z" fill="#c8a8ac" opacity="0.9"/>
<ellipse cx="40" cy="26" rx="5" ry="2.5" fill="#d8c4c6"/>
<ellipse cx="20" cy="10" rx="6" ry="3" fill="#bc8688"/>
<ellipse cx="56" cy="28" rx="5" ry="4" fill="#b87a7c" opacity="0.9"/>
<ellipse cx="12" cy="36" rx="9" ry="5" fill="#e4dadc"/>
<ellipse cx="6" cy="24" rx="5" ry="3" fill="#b07070" opacity="0.8"/>
</g>
</g></g>
<rect x="300.3" y="244.8" width="65.6" height="41.9" fill="none" stroke="#363640" stroke-width="1.1" />
<clipPath id="ce12"><rect x="367.4" y="244.8" width="65.6" height="41.9"/></clipPath>
<g clip-path="url(#ce12)"><g transform="translate(367.4,244.8)">
<rect x="0" y="0" width="65.6" height="41.9" fill="#c9bed6" stroke="none" stroke-width="1" />
<g filter="url(#b1)">
<ellipse cx="9" cy="14" rx="6" ry="6" fill="#d2c0b6"/>
<ellipse cx="33" cy="28" rx="4" ry="4" fill="#d6c8b8"/>
<ellipse cx="20" cy="12" rx="9" ry="6" fill="#b8a8cc" opacity="0.7"/>
<ellipse cx="52" cy="20" rx="10" ry="12" fill="#d8cede" opacity="0.8"/>
</g>
<path d="M19,8 C20,12 19,16 17,18 M24,26 C25,30 26,33 24,36 M10,32 C13,30 15,28 16,26" stroke="#f4f0f6" stroke-width="1" fill="none"/>
</g></g>
<rect x="367.4" y="244.8" width="65.6" height="41.9" fill="none" stroke="#363640" stroke-width="1.1" />
<clipPath id="ce20"><rect x="233.0" y="288.9" width="65.6" height="41.9"/></clipPath>
<g clip-path="url(#ce20)"><g transform="translate(233.0,288.9)">
<rect x="0" y="0" width="65.6" height="41.9" fill="#e2d6da" stroke="none" stroke-width="1" />
<g filter="url(#b1)">
<path d="M54,0 H66 V42 H25 C34,38 42,30 47,21 C51,14 53,7 54,0 Z" fill="#a34a54"/>
<path d="M54,0 C53,7 51,14 47,21 C42,30 34,38 25,42 H22 C31,37 39,29 44.5,20 C48.5,13 50.5,7 51.5,0 Z" fill="#f4eef2"/>
</g>
<circle cx="7" cy="17" r="5" fill="#d8a8b0" stroke="#a85260" stroke-width="1.3"/>
<circle cx="20" cy="12" r="4" fill="#f0e8ec" stroke="#a85260" stroke-width="1.1"/>
<circle cx="19" cy="25" r="4.5" fill="#f0ecf0" stroke="#b86a74" stroke-width="1"/>
<path d="M1,3 C8,2 14,4 20,2 M24,6 C28,5 32,8 34,6" stroke="#a85260" stroke-width="1" fill="none"/>
</g></g>
<rect x="233.0" y="288.9" width="65.6" height="41.9" fill="none" stroke="#363640" stroke-width="1.1" />
<clipPath id="ce21"><rect x="300.3" y="288.9" width="65.6" height="41.9"/></clipPath>
<g clip-path="url(#ce21)"><g transform="translate(300.3,288.9)">
<rect x="0" y="0" width="65.6" height="41.9" fill="#b6a2d4" stroke="none" stroke-width="1" />
<g filter="url(#b2)">
<path d="M5,42 C10,34 16,26 20,16 C28,22 38,32 46,42 Z" fill="#d8cce6"/>
<ellipse cx="10" cy="14" rx="9" ry="8" fill="#cbbcdc" opacity="0.8"/>
<ellipse cx="45" cy="10" rx="14" ry="7" fill="#c2aedc" opacity="0.8"/>
<ellipse cx="34" cy="18" rx="6" ry="3" fill="#e0d4ea" opacity="0.9"/>
<ellipse cx="55" cy="30" rx="8" ry="6" fill="#a890cc" opacity="0.8"/>
</g>
</g></g>
<rect x="300.3" y="288.9" width="65.6" height="41.9" fill="none" stroke="#363640" stroke-width="1.1" />
<clipPath id="ce22"><rect x="367.4" y="288.9" width="65.6" height="41.9"/></clipPath>
<g clip-path="url(#ce22)"><g transform="translate(367.4,288.9)">
<rect x="0" y="0" width="65.6" height="41.9" fill="#dfd1db" stroke="none" stroke-width="1" />
<g filter="url(#b1)">
<ellipse cx="30" cy="26" rx="14" ry="7" fill="#c08a98" opacity="0.6"/>
</g>
<circle cx="8" cy="16.5" r="5.5" fill="#efe6ec" stroke="#b45e70" stroke-width="2"/>
<circle cx="18.5" cy="11" r="3.5" fill="#efe6ec" stroke="#b45e70" stroke-width="1.6"/>
<circle cx="33" cy="28.3" r="5" fill="#efe6ec" stroke="#b45e70" stroke-width="2"/>
<circle cx="22" cy="29" r="3" fill="#efe6ec" stroke="#b45e70" stroke-width="1.5"/>
<circle cx="42" cy="22" r="3.5" fill="#efe6ec" stroke="#b45e70" stroke-width="1.5"/>
<circle cx="57" cy="32.4" r="4" fill="#efe6ec" stroke="#c07888" stroke-width="1.5"/>
</g></g>
<rect x="367.4" y="288.9" width="65.6" height="41.9" fill="none" stroke="#363640" stroke-width="1.1" />
</svg></body></html>
